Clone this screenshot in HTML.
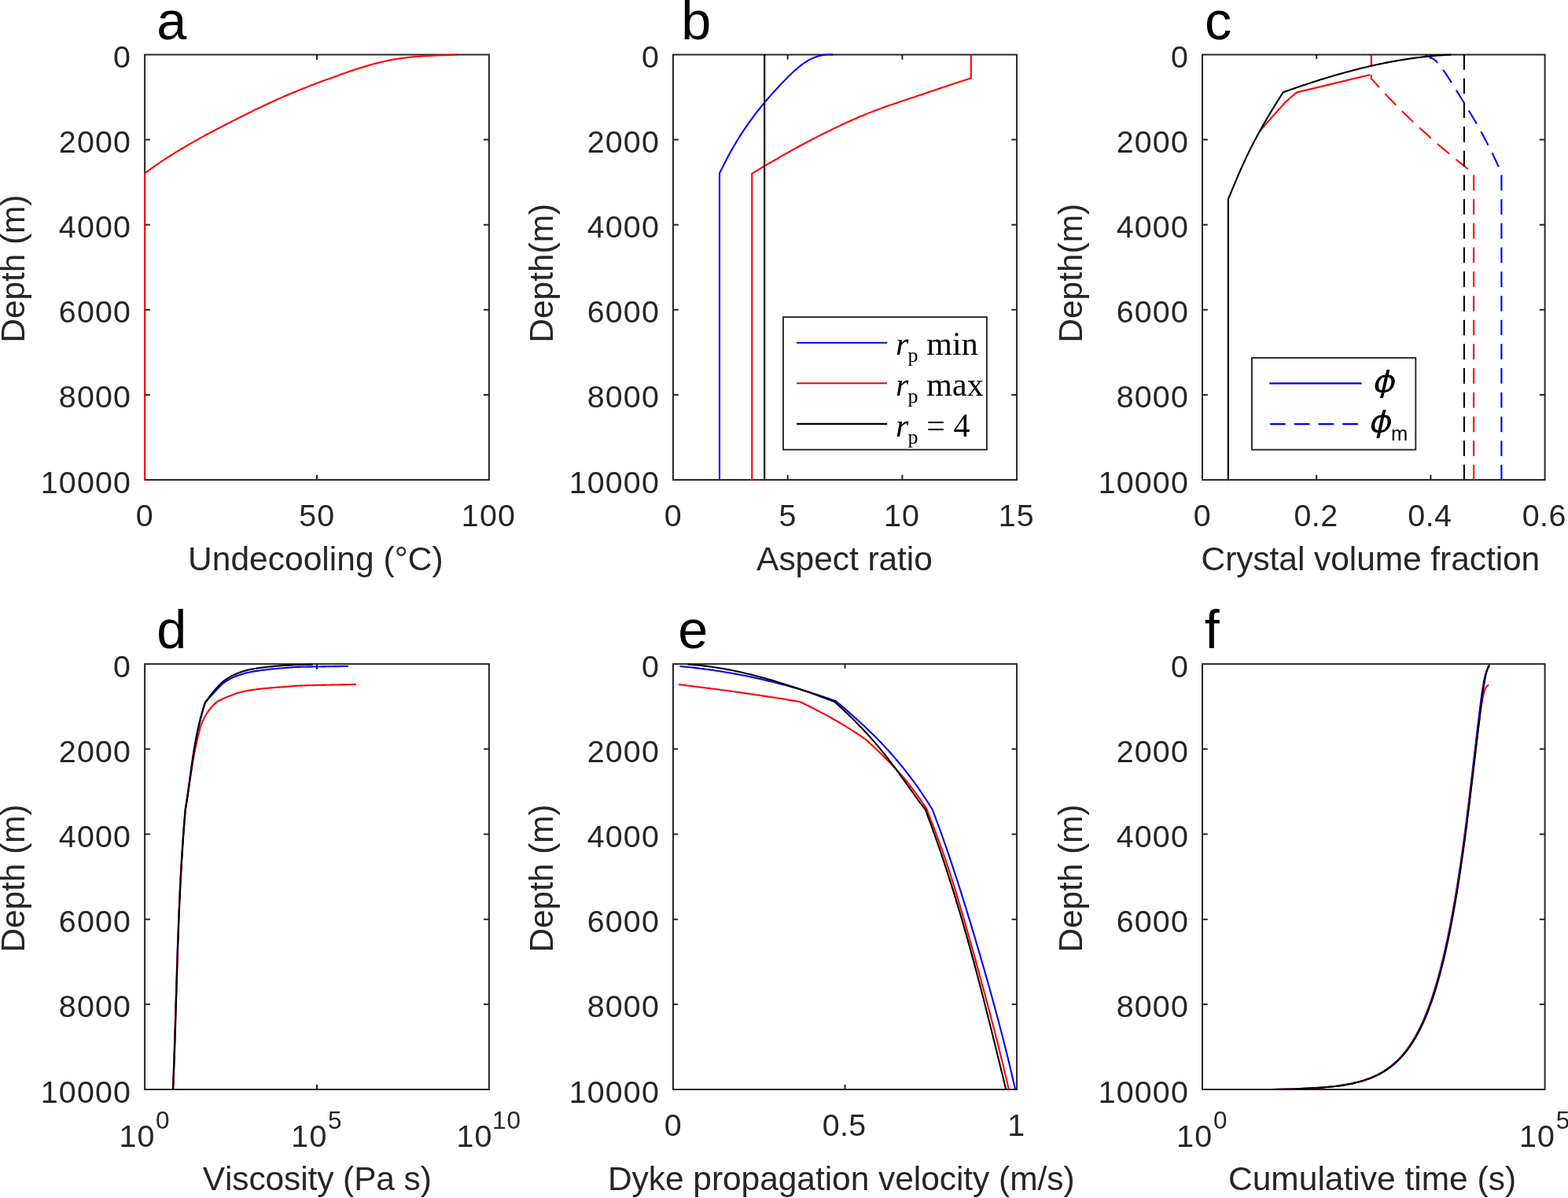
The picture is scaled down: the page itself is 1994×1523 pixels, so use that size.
<!DOCTYPE html>
<html lang="en">
<head>
<meta charset="utf-8">
<title>Depth profiles</title>
<style>
html,body{margin:0;padding:0;background:#fff;}
body{width:1994px;height:1523px;overflow:hidden;}
svg{display:block;}
text{white-space:pre;font-kerning:none;}
</style>
</head>
<body>
<svg width="1994" height="1523" viewBox="0 0 1994 1523">
<rect x="0" y="0" width="1994" height="1523" fill="#ffffff"/>
<path d="M403 610.05 V603.85 M403 69.5 V75.9 M184.1 177.61 H190.85 M621.9 177.61 H615 M184.1 285.72 H190.85 M621.9 285.72 H615 M184.1 393.83 H190.85 M621.9 393.83 H615 M184.1 501.94 H190.85 M621.9 501.94 H615" fill="none" stroke="#262626" stroke-width="2"/>
<rect x="184.1" y="69.5" width="437.8" height="540.55" fill="none" stroke="#262626" stroke-width="2"/>
<path d="M184.1 611.05 L184.12 220.24 L186.79 218.28 L189.46 216.34 L192.13 214.43 L194.8 212.54 L197.48 210.67 L200.15 208.83 L202.82 207.01 L205.49 205.22 L208.16 203.45 L210.83 201.69 L213.5 199.96 L216.17 198.25 L218.84 196.56 L221.51 194.89 L224.19 193.23 L226.86 191.6 L229.53 189.98 L232.2 188.38 L234.87 186.79 L237.54 185.22 L240.21 183.67 L242.88 182.13 L245.55 180.61 L248.22 179.1 L250.9 177.6 L253.57 176.12 L256.24 174.64 L258.91 173.18 L261.58 171.73 L264.25 170.3 L266.92 168.87 L269.59 167.45 L272.26 166.04 L274.93 164.64 L277.61 163.24 L280.28 161.86 L282.95 160.48 L285.62 159.1 L288.29 157.73 L290.96 156.37 L293.63 155.01 L296.3 153.66 L298.97 152.31 L301.64 150.96 L304.32 149.62 L306.99 148.28 L309.66 146.95 L312.33 145.62 L315 144.3 L317.67 142.98 L320.34 141.66 L323.01 140.36 L325.68 139.06 L328.35 137.77 L331.03 136.48 L333.7 135.21 L336.37 133.94 L339.04 132.68 L341.71 131.43 L344.38 130.2 L347.05 128.97 L349.72 127.75 L352.39 126.54 L355.06 125.34 L357.74 124.16 L360.41 122.99 L363.08 121.83 L365.75 120.68 L368.42 119.55 L371.09 118.43 L373.76 117.32 L376.43 116.22 L379.1 115.14 L381.77 114.07 L384.45 113.01 L387.12 111.96 L389.79 110.91 L392.46 109.88 L395.13 108.85 L397.8 107.84 L400.47 106.82 L403.14 105.82 L405.81 104.82 L408.48 103.82 L411.16 102.83 L413.83 101.84 L416.5 100.85 L419.17 99.87 L421.84 98.89 L424.51 97.92 L427.18 96.94 L429.85 95.98 L432.52 95.02 L435.19 94.07 L437.87 93.13 L440.54 92.2 L443.21 91.27 L445.88 90.36 L448.55 89.46 L451.22 88.58 L453.89 87.7 L456.56 86.85 L459.23 86.01 L461.9 85.18 L464.58 84.37 L467.25 83.59 L469.92 82.82 L472.59 82.07 L475.26 81.34 L477.93 80.63 L480.6 79.95 L483.27 79.29 L485.94 78.65 L488.61 78.04 L491.29 77.45 L493.96 76.9 L496.63 76.36 L499.3 75.86 L501.97 75.39 L504.64 74.94 L507.31 74.52 L509.98 74.13 L512.65 73.77 L515.32 73.43 L518 73.12 L520.67 72.83 L523.34 72.56 L526.01 72.31 L528.68 72.08 L531.35 71.86 L534.02 71.67 L536.69 71.49 L539.36 71.32 L542.03 71.16 L544.71 71.02 L547.38 70.88 L550.05 70.76 L552.72 70.64 L555.39 70.53 L558.06 70.42 L560.73 70.32 L563.4 70.22 L566.07 70.13 L568.74 70.03 L571.42 69.93 L574.09 69.83 L576.76 69.72 L579.43 69.61 L582.1 69.5" fill="none" stroke="#ff0000" stroke-width="2.1" stroke-linejoin="round"/>
<text x="144.03" y="86" font-size="39.4" fill="#262626" font-family="'Liberation Sans', sans-serif" letter-spacing="1.14">0</text>
<text x="74.86" y="194.11" font-size="39.4" fill="#262626" font-family="'Liberation Sans', sans-serif" letter-spacing="1.14">2000</text>
<text x="74.86" y="302.22" font-size="39.4" fill="#262626" font-family="'Liberation Sans', sans-serif" letter-spacing="1.14">4000</text>
<text x="74.86" y="410.33" font-size="39.4" fill="#262626" font-family="'Liberation Sans', sans-serif" letter-spacing="1.14">6000</text>
<text x="74.86" y="518.44" font-size="39.4" fill="#262626" font-family="'Liberation Sans', sans-serif" letter-spacing="1.14">8000</text>
<text x="51.8" y="626.55" font-size="39.4" fill="#262626" font-family="'Liberation Sans', sans-serif" letter-spacing="1.14">10000</text>
<text x="172.84" y="669.4" font-size="39.4" fill="#262626" font-family="'Liberation Sans', sans-serif" letter-spacing="1.14">0</text>
<text x="380.2" y="669.4" font-size="39.4" fill="#262626" font-family="'Liberation Sans', sans-serif" letter-spacing="1.14">50</text>
<text x="586.86" y="669.4" font-size="39.4" fill="#262626" font-family="'Liberation Sans', sans-serif" letter-spacing="1.14">100</text>
<text x="239.02" y="724.75" font-size="42.5" fill="#262626" font-family="'Liberation Sans', sans-serif" letter-spacing="0.03">Undecooling (°C)</text>
<text transform="translate(31.1 435.69) rotate(-90)" font-size="42.5" fill="#262626" font-family="'Liberation Sans', sans-serif" letter-spacing="-0.1">Depth (m)</text>
<text x="199.29" y="50.1" font-size="68.5" fill="#000" font-family="'Liberation Sans', sans-serif">a</text>
<path d="M1001.7 610.05 V603.75 M1001.7 69.5 V75.8 M1147.4 610.05 V603.75 M1147.4 69.5 V75.8 M856 177.61 H862.8 M1293.1 177.61 H1286.3 M856 285.72 H862.8 M1293.1 285.72 H1286.3 M856 393.83 H862.8 M1293.1 393.83 H1286.3 M856 501.94 H862.8 M1293.1 501.94 H1286.3" fill="none" stroke="#262626" stroke-width="2"/>
<rect x="856" y="69.5" width="437.1" height="540.55" fill="none" stroke="#262626" stroke-width="2"/>
<path d="M915.04 611.05 L915.04 220.34 L916.5 217.32 L917.95 214.35 L919.41 211.43 L920.86 208.55 L922.32 205.71 L923.78 202.93 L925.23 200.18 L926.69 197.48 L928.15 194.82 L929.6 192.2 L931.06 189.62 L932.51 187.09 L933.97 184.59 L935.43 182.13 L936.88 179.71 L938.34 177.32 L939.79 174.97 L941.25 172.66 L942.71 170.38 L944.16 168.13 L945.62 165.92 L947.08 163.74 L948.53 161.59 L949.99 159.47 L951.44 157.39 L952.9 155.33 L954.36 153.3 L955.81 151.3 L957.27 149.32 L958.72 147.37 L960.18 145.45 L961.64 143.55 L963.09 141.68 L964.55 139.83 L966.01 138 L967.46 136.19 L968.92 134.4 L970.37 132.64 L971.83 130.89 L973.29 129.17 L974.74 127.46 L976.2 125.76 L977.65 124.09 L979.11 122.43 L980.57 120.78 L982.02 119.15 L983.48 117.53 L984.94 115.93 L986.39 114.34 L987.85 112.75 L989.3 111.18 L990.76 109.62 L992.22 108.07 L993.67 106.52 L995.13 104.99 L996.59 103.46 L998.04 101.95 L999.5 100.46 L1000.95 98.98 L1002.41 97.52 L1003.87 96.08 L1005.32 94.67 L1006.78 93.27 L1008.23 91.9 L1009.69 90.56 L1011.15 89.25 L1012.6 87.97 L1014.06 86.72 L1015.52 85.5 L1016.97 84.32 L1018.43 83.18 L1019.88 82.08 L1021.34 81.01 L1022.8 79.99 L1024.25 79.01 L1025.71 78.08 L1027.16 77.2 L1028.62 76.36 L1030.08 75.58 L1031.53 74.85 L1032.99 74.16 L1034.45 73.52 L1035.9 72.93 L1037.36 72.39 L1038.81 71.9 L1040.27 71.45 L1041.73 71.04 L1043.18 70.68 L1044.64 70.37 L1046.09 70.1 L1047.55 69.87 L1049.01 69.68 L1050.46 69.53 L1051.92 69.43 L1053.38 69.37 L1054.83 69.34 L1056.29 69.36 L1057.74 69.41 L1059.2 69.5" fill="none" stroke="#0000ff" stroke-width="2.1" stroke-linejoin="round"/>
<path d="M956.27 611.05 L956.27 220.64 L959.08 218.95 L961.9 217.26 L964.71 215.58 L967.53 213.91 L970.34 212.24 L973.15 210.58 L975.97 208.92 L978.78 207.27 L981.59 205.63 L984.41 203.99 L987.22 202.37 L990.04 200.75 L992.85 199.13 L995.66 197.53 L998.48 195.93 L1001.29 194.34 L1004.11 192.77 L1006.92 191.2 L1009.73 189.63 L1012.55 188.08 L1015.36 186.54 L1018.17 185.01 L1020.99 183.49 L1023.8 181.97 L1026.62 180.47 L1029.43 178.98 L1032.24 177.5 L1035.06 176.03 L1037.87 174.57 L1040.69 173.12 L1043.5 171.69 L1046.31 170.26 L1049.13 168.85 L1051.94 167.45 L1054.75 166.07 L1057.57 164.69 L1060.38 163.33 L1063.2 161.99 L1066.01 160.65 L1068.82 159.33 L1071.64 158.02 L1074.45 156.73 L1077.27 155.45 L1080.08 154.19 L1082.89 152.94 L1085.71 151.71 L1088.52 150.49 L1091.33 149.28 L1094.15 148.09 L1096.96 146.92 L1099.78 145.76 L1102.59 144.62 L1105.4 143.5 L1108.22 142.39 L1111.03 141.3 L1113.84 140.23 L1116.66 139.17 L1119.47 138.13 L1122.29 137.1 L1125.1 136.09 L1127.91 135.09 L1130.73 134.1 L1133.54 133.12 L1136.36 132.15 L1139.17 131.19 L1141.98 130.23 L1144.8 129.29 L1147.61 128.34 L1150.42 127.4 L1153.24 126.47 L1156.05 125.54 L1158.87 124.6 L1161.68 123.67 L1164.49 122.74 L1167.31 121.8 L1170.12 120.86 L1172.94 119.92 L1175.75 118.97 L1178.56 118.02 L1181.38 117.07 L1184.19 116.11 L1187 115.16 L1189.82 114.2 L1192.63 113.24 L1195.45 112.28 L1198.26 111.33 L1201.07 110.38 L1203.89 109.43 L1206.7 108.49 L1209.52 107.55 L1212.33 106.62 L1215.14 105.69 L1217.96 104.78 L1220.77 103.87 L1223.58 102.97 L1226.4 102.08 L1229.21 101.2 L1232.03 100.33 L1234.84 99.48 L1234.84 69.5" fill="none" stroke="#ff0000" stroke-width="2.1" stroke-linejoin="round"/>
<path d="M972.2 611.05 L972.2 68.9" fill="none" stroke="#000000" stroke-width="2.1" stroke-linejoin="round"/>
<text x="815.93" y="86" font-size="39.4" fill="#262626" font-family="'Liberation Sans', sans-serif" letter-spacing="1.14">0</text>
<text x="746.76" y="194.11" font-size="39.4" fill="#262626" font-family="'Liberation Sans', sans-serif" letter-spacing="1.14">2000</text>
<text x="746.76" y="302.22" font-size="39.4" fill="#262626" font-family="'Liberation Sans', sans-serif" letter-spacing="1.14">4000</text>
<text x="746.76" y="410.33" font-size="39.4" fill="#262626" font-family="'Liberation Sans', sans-serif" letter-spacing="1.14">6000</text>
<text x="746.76" y="518.44" font-size="39.4" fill="#262626" font-family="'Liberation Sans', sans-serif" letter-spacing="1.14">8000</text>
<text x="723.7" y="626.55" font-size="39.4" fill="#262626" font-family="'Liberation Sans', sans-serif" letter-spacing="1.14">10000</text>
<text x="844.74" y="669.4" font-size="39.4" fill="#262626" font-family="'Liberation Sans', sans-serif" letter-spacing="1.14">0</text>
<text x="990.48" y="669.4" font-size="39.4" fill="#262626" font-family="'Liberation Sans', sans-serif" letter-spacing="1.14">5</text>
<text x="1123.88" y="669.4" font-size="39.4" fill="#262626" font-family="'Liberation Sans', sans-serif" letter-spacing="1.14">10</text>
<text x="1269.64" y="669.4" font-size="39.4" fill="#262626" font-family="'Liberation Sans', sans-serif" letter-spacing="1.14">15</text>
<text x="962.12" y="724.75" font-size="42.5" fill="#262626" font-family="'Liberation Sans', sans-serif" letter-spacing="-0.06">Aspect ratio</text>
<text transform="translate(703 435.69) rotate(-90)" font-size="42.5" fill="#262626" font-family="'Liberation Sans', sans-serif" letter-spacing="-0.04">Depth(m)</text>
<text x="866.18" y="50.1" font-size="68.5" fill="#000" font-family="'Liberation Sans', sans-serif">b</text>
<rect x="995.95" y="403.1" width="258.95" height="168.55" fill="#fff" stroke="#262626" stroke-width="1.9"/>
<path d="M1013.1 435.7 L1128.2 435.7" fill="none" stroke="#0000ff" stroke-width="2.1" stroke-linejoin="round"/>
<text x="1139" y="451.3" font-size="42" fill="#000" font-family="'Liberation Serif', serif"><tspan font-style="italic">r</tspan><tspan font-size="26" dx="-0.8" dy="9">p</tspan><tspan dx="0.3" dy="-9"> min</tspan></text>
<path d="M1013.1 487.3 L1128.2 487.3" fill="none" stroke="#ff0000" stroke-width="2.1" stroke-linejoin="round"/>
<text x="1139" y="502.9" font-size="42" fill="#000" font-family="'Liberation Serif', serif"><tspan font-style="italic">r</tspan><tspan font-size="26" dx="-0.8" dy="9">p</tspan><tspan dx="0.3" dy="-9"> max</tspan></text>
<path d="M1013.1 538.9 L1128.2 538.9" fill="none" stroke="#000000" stroke-width="2.1" stroke-linejoin="round"/>
<text x="1139" y="554.5" font-size="42" fill="#000" font-family="'Liberation Serif', serif"><tspan font-style="italic">r</tspan><tspan font-size="26" dx="-0.8" dy="9">p</tspan><tspan dx="0.3" dy="-9"> = 4</tspan></text>
<path d="M1674.2 610.05 V603.75 M1674.2 69.5 V75 M1819.4 610.05 V603.75 M1819.4 69.5 V75 M1529 177.61 H1535.8 M1964.6 177.61 H1957.8 M1529 285.72 H1535.8 M1964.6 285.72 H1957.8 M1529 393.83 H1535.8 M1964.6 393.83 H1957.8 M1529 501.94 H1535.8 M1964.6 501.94 H1957.8" fill="none" stroke="#262626" stroke-width="2"/>
<rect x="1529" y="69.5" width="435.6" height="540.55" fill="none" stroke="#262626" stroke-width="2"/>
<path d="M1909.41 610.55 L1909.41 220.6 L1908.78 219.08 L1908.13 217.56 L1907.49 216.05 L1906.83 214.53 L1906.17 213.01 L1905.5 211.49 L1904.82 209.97 L1904.14 208.45 L1903.45 206.94 L1902.76 205.42 L1902.05 203.9 L1901.34 202.38 L1900.63 200.86 L1899.91 199.35 L1899.18 197.83 L1898.45 196.31 L1897.71 194.79 L1896.96 193.27 L1896.21 191.75 L1895.45 190.24 L1894.69 188.72 L1893.92 187.2 L1893.14 185.68 L1892.36 184.16 L1891.57 182.65 L1890.78 181.13 L1889.98 179.61 L1889.18 178.09 L1888.37 176.57 L1887.56 175.05 L1886.74 173.54 L1885.92 172.02 L1885.09 170.5 L1884.26 168.98 L1883.42 167.46 L1882.58 165.95 L1881.73 164.43 L1880.88 162.91 L1880.02 161.39 L1879.16 159.87 L1878.3 158.35 L1877.43 156.84 L1876.55 155.32 L1875.68 153.8 L1874.79 152.28 L1873.91 150.76 L1873.02 149.25 L1872.12 147.73 L1871.22 146.21 L1870.32 144.69 L1869.42 143.17 L1868.51 141.65 L1867.59 140.14 L1866.68 138.62 L1865.76 137.1 L1864.84 135.58 L1863.91 134.06 L1862.98 132.55 L1862.05 131.03 L1861.12 129.51 L1860.18 127.99 L1859.24 126.47 L1858.3 124.95 L1857.36 123.44 L1856.42 121.92 L1855.47 120.4 L1854.53 118.88 L1853.58 117.36 L1852.63 115.85 L1851.68 114.33 L1850.73 112.81 L1849.78 111.29 L1848.83 109.77 L1847.88 108.25 L1846.92 106.74 L1845.97 105.22 L1845.02 103.7 L1844.07 102.18 L1843.11 100.66 L1842.15 99.15 L1841.17 97.63 L1840.19 96.11 L1839.19 94.59 L1838.17 93.07 L1837.13 91.55 L1836.07 90.04 L1834.99 88.52 L1833.88 87 L1832.74 85.48 L1831.57 83.96 L1830.36 82.45 L1829.11 80.93 L1827.83 79.41 L1826.45 77.89 L1824.81 76.37 L1822.72 74.85 L1819.99 73.34 L1816.43 71.82 L1811.85 70.3" fill="none" stroke="#0000ff" stroke-width="2.1" stroke-linejoin="round" stroke-dasharray="19.7 11" stroke-dashoffset="0"/>
<path d="M1874.1 610.55 L1874.1 220.6 L1872.53 219.38 L1870.97 218.16 L1869.41 216.94 L1867.86 215.72 L1866.32 214.49 L1864.77 213.27 L1863.24 212.05 L1861.71 210.83 L1860.18 209.61 L1858.66 208.39 L1857.15 207.17 L1855.64 205.95 L1854.13 204.72 L1852.63 203.5 L1851.14 202.28 L1849.65 201.06 L1848.16 199.84 L1846.68 198.62 L1845.21 197.4 L1843.74 196.18 L1842.28 194.95 L1840.82 193.73 L1839.37 192.51 L1837.92 191.29 L1836.48 190.07 L1835.04 188.85 L1833.61 187.63 L1832.18 186.41 L1830.76 185.18 L1829.34 183.96 L1827.93 182.74 L1826.52 181.52 L1825.12 180.3 L1823.72 179.08 L1822.33 177.86 L1820.95 176.64 L1819.57 175.42 L1818.19 174.19 L1816.82 172.97 L1815.45 171.75 L1814.09 170.53 L1812.74 169.31 L1811.39 168.09 L1810.04 166.87 L1808.7 165.65 L1807.37 164.42 L1806.04 163.2 L1804.71 161.98 L1803.39 160.76 L1802.08 159.54 L1800.77 158.32 L1799.46 157.1 L1798.16 155.88 L1796.87 154.65 L1795.58 153.43 L1794.29 152.21 L1793.02 150.99 L1791.74 149.77 L1790.47 148.55 L1789.21 147.33 L1787.95 146.11 L1786.69 144.88 L1785.44 143.66 L1784.2 142.44 L1782.96 141.22 L1781.73 140 L1780.5 138.78 L1779.27 137.56 L1778.06 136.34 L1776.84 135.12 L1775.63 133.89 L1774.43 132.67 L1773.23 131.45 L1772.04 130.23 L1770.85 129.01 L1769.66 127.79 L1768.48 126.57 L1767.31 125.35 L1766.14 124.12 L1764.98 122.9 L1763.82 121.68 L1762.66 120.46 L1761.51 119.24 L1760.37 118.02 L1759.23 116.8 L1758.1 115.58 L1756.97 114.35 L1755.84 113.13 L1754.72 111.91 L1753.61 110.69 L1752.5 109.47 L1751.39 108.25 L1750.29 107.03 L1749.2 105.81 L1748.11 104.58 L1747.03 103.36 L1745.95 102.14 L1744.87 100.92 L1743.8 99.7 L1743.8 69.5" fill="none" stroke="#ff0000" stroke-width="2.1" stroke-linejoin="round" stroke-dasharray="19.7 11" stroke-dashoffset="0"/>
<path d="M1561.9 611.05 L1561.9 253.22 L1562.47 251.85 L1563.03 250.48 L1563.6 249.1 L1564.16 247.73 L1564.73 246.36 L1565.3 244.99 L1565.86 243.61 L1566.43 242.24 L1567 240.87 L1567.57 239.5 L1568.14 238.13 L1568.72 236.75 L1569.29 235.38 L1569.86 234.01 L1570.44 232.64 L1571.02 231.26 L1571.6 229.89 L1572.18 228.52 L1572.77 227.15 L1573.35 225.78 L1573.94 224.4 L1574.53 223.03 L1575.12 221.66 L1575.72 220.29 L1576.32 218.91 L1576.92 217.54 L1577.52 216.17 L1578.13 214.8 L1578.74 213.43 L1579.35 212.05 L1579.97 210.68 L1580.59 209.31 L1581.22 207.94 L1581.84 206.56 L1582.48 205.19 L1583.11 203.82 L1583.75 202.45 L1584.39 201.08 L1585.04 199.7 L1585.7 198.33 L1586.35 196.96 L1587.01 195.59 L1587.68 194.21 L1588.35 192.84 L1589.03 191.47 L1589.71 190.1 L1590.4 188.73 L1591.09 187.35 L1591.78 185.98 L1592.48 184.61 L1593.18 183.24 L1593.89 181.86 L1594.61 180.49 L1595.32 179.12 L1596.05 177.75 L1596.77 176.38 L1597.5 175 L1598.24 173.63 L1598.98 172.26 L1599.72 170.89 L1600.47 169.51 L1601.22 168.14 L1601.98 166.77" fill="none" stroke="#ff0000" stroke-width="1.2" stroke-linejoin="round"/>
<path d="M1561.9 611.05 L1561.9 253.22 L1562.47 251.85 L1563.03 250.48 L1563.6 249.1 L1564.16 247.73 L1564.73 246.36 L1565.3 244.99 L1565.86 243.61 L1566.43 242.24 L1567 240.87 L1567.57 239.5 L1568.14 238.13 L1568.72 236.75 L1569.29 235.38 L1569.86 234.01 L1570.44 232.64 L1571.02 231.26 L1571.6 229.89 L1572.18 228.52 L1572.77 227.15 L1573.35 225.78 L1573.94 224.4 L1574.53 223.03 L1575.12 221.66 L1575.72 220.29 L1576.32 218.91 L1576.92 217.54 L1577.52 216.17 L1578.13 214.8 L1578.74 213.43 L1579.35 212.05 L1579.97 210.68 L1580.59 209.31 L1581.22 207.94 L1581.84 206.56 L1582.48 205.19 L1583.11 203.82 L1583.75 202.45 L1584.39 201.08 L1585.04 199.7 L1585.7 198.33 L1586.35 196.96 L1587.01 195.59 L1587.68 194.21 L1588.35 192.84 L1589.03 191.47 L1589.71 190.1 L1590.4 188.73 L1591.09 187.35 L1591.78 185.98 L1592.48 184.61 L1593.18 183.24 L1593.89 181.86 L1594.61 180.49 L1595.32 179.12 L1596.05 177.75 L1596.77 176.38 L1597.5 175 L1598.24 173.63 L1598.98 172.26 L1599.72 170.89 L1600.47 169.51 L1601.22 168.14 L1601.98 166.77 L1602.74 165.4 L1603.5 164.03 L1604.27 162.65 L1605.05 161.28 L1605.82 159.91 L1606.6 158.54 L1607.39 157.16 L1608.18 155.79 L1608.97 154.42 L1609.77 153.05 L1610.57 151.68 L1611.37 150.3 L1612.18 148.93 L1612.99 147.56 L1613.81 146.19 L1614.63 144.81 L1615.45 143.44 L1616.28 142.07 L1617.11 140.7 L1617.94 139.33 L1618.78 137.95 L1619.62 136.58 L1620.46 135.21 L1621.31 133.84 L1622.16 132.46 L1623.01 131.09 L1623.87 129.72 L1624.73 128.35 L1625.59 126.98 L1626.46 125.6 L1627.33 124.23 L1628.21 122.86 L1629.08 121.49 L1629.96 120.11 L1630.84 118.74 L1631.73 117.37 L1633.89 116.6 L1636.05 115.82 L1638.21 115.06 L1640.37 114.3 L1642.53 113.54 L1644.69 112.78 L1646.85 112.03 L1649.01 111.29 L1651.17 110.55 L1653.33 109.81 L1655.49 109.08 L1657.65 108.35 L1659.81 107.63 L1661.97 106.92 L1664.13 106.2 L1666.29 105.49 L1668.45 104.79 L1670.61 104.09 L1672.77 103.4 L1674.93 102.71 L1677.09 102.03 L1679.25 101.35 L1681.41 100.68 L1683.57 100.01 L1685.72 99.35 L1687.88 98.7 L1690.04 98.05 L1692.2 97.4 L1694.36 96.76 L1696.52 96.13 L1698.68 95.5 L1700.84 94.88 L1703 94.26 L1705.16 93.65 L1707.32 93.05 L1709.48 92.45 L1711.64 91.86 L1713.8 91.27 L1715.96 90.69 L1718.12 90.12 L1720.28 89.55 L1722.44 88.99 L1724.6 88.43 L1726.76 87.89 L1728.92 87.35 L1731.08 86.81 L1733.24 86.28 L1735.4 85.76 L1737.56 85.25 L1739.72 84.74 L1741.88 84.24 L1744.04 83.75 L1746.2 83.26 L1748.36 82.78 L1750.52 82.31 L1752.68 81.84 L1754.84 81.38 L1757 80.93 L1759.16 80.49 L1761.32 80.05 L1763.48 79.63 L1765.64 79.21 L1767.8 78.79 L1769.96 78.39 L1772.12 77.99 L1774.28 77.6 L1776.44 77.22 L1778.6 76.84 L1780.76 76.48 L1782.92 76.12 L1785.08 75.77 L1787.24 75.43 L1789.4 75.09 L1791.56 74.77 L1793.71 74.45 L1795.87 74.14 L1798.03 73.84 L1800.19 73.55 L1802.35 73.27 L1804.51 72.99 L1806.67 72.73 L1808.83 72.47 L1810.99 72.22" fill="none" stroke="#0000ff" stroke-width="1.2" stroke-linejoin="round"/>
<path d="M1601.98 166.77 L1603.05 165.5 L1604.12 164.24 L1605.2 162.97 L1606.28 161.7 L1607.37 160.44 L1608.46 159.17 L1609.56 157.9 L1610.66 156.64 L1611.77 155.37 L1612.88 154.1 L1614 152.84 L1615.11 151.57 L1616.24 150.3 L1617.37 149.04 L1618.5 147.77 L1619.65 146.5 L1620.8 145.24 L1621.95 143.97 L1623.11 142.7 L1624.27 141.44 L1625.43 140.17 L1626.59 138.9 L1627.73 137.64 L1628.85 136.37 L1629.98 135.1 L1631.11 133.84 L1632.27 132.57 L1633.46 131.3 L1634.69 130.04 L1635.98 128.77 L1637.31 127.5 L1638.69 126.24 L1640.1 124.97 L1641.56 123.7 L1643.05 122.44 L1644.58 121.17 L1646.14 119.9 L1647.74 118.64 L1649.38 117.37 L1742.4 95" fill="none" stroke="#ff0000" stroke-width="2.1" stroke-linejoin="round"/>
<path d="M1561.9 611.05 L1561.9 253.22 L1562.47 251.85 L1563.03 250.48 L1563.6 249.1 L1564.16 247.73 L1564.73 246.36 L1565.3 244.99 L1565.86 243.61 L1566.43 242.24 L1567 240.87 L1567.57 239.5 L1568.14 238.13 L1568.72 236.75 L1569.29 235.38 L1569.86 234.01 L1570.44 232.64 L1571.02 231.26 L1571.6 229.89 L1572.18 228.52 L1572.77 227.15 L1573.35 225.78 L1573.94 224.4 L1574.53 223.03 L1575.12 221.66 L1575.72 220.29 L1576.32 218.91 L1576.92 217.54 L1577.52 216.17 L1578.13 214.8 L1578.74 213.43 L1579.35 212.05 L1579.97 210.68 L1580.59 209.31 L1581.22 207.94 L1581.84 206.56 L1582.48 205.19 L1583.11 203.82 L1583.75 202.45 L1584.39 201.08 L1585.04 199.7 L1585.7 198.33 L1586.35 196.96 L1587.01 195.59 L1587.68 194.21 L1588.35 192.84 L1589.03 191.47 L1589.71 190.1 L1590.4 188.73 L1591.09 187.35 L1591.78 185.98 L1592.48 184.61 L1593.18 183.24 L1593.89 181.86 L1594.61 180.49 L1595.32 179.12 L1596.05 177.75 L1596.77 176.38 L1597.5 175 L1598.24 173.63 L1598.98 172.26 L1599.72 170.89 L1600.47 169.51 L1601.22 168.14 L1601.98 166.77 L1602.74 165.4 L1603.5 164.03 L1604.27 162.65 L1605.05 161.28 L1605.82 159.91 L1606.6 158.54 L1607.39 157.16 L1608.18 155.79 L1608.97 154.42 L1609.77 153.05 L1610.57 151.68 L1611.37 150.3 L1612.18 148.93 L1612.99 147.56 L1613.81 146.19 L1614.63 144.81 L1615.45 143.44 L1616.28 142.07 L1617.11 140.7 L1617.94 139.33 L1618.78 137.95 L1619.62 136.58 L1620.46 135.21 L1621.31 133.84 L1622.16 132.46 L1623.01 131.09 L1623.87 129.72 L1624.73 128.35 L1625.59 126.98 L1626.46 125.6 L1627.33 124.23 L1628.21 122.86 L1629.08 121.49 L1629.96 120.11 L1630.84 118.74 L1631.73 117.37 L1633.89 116.6 L1636.05 115.82 L1638.21 115.06 L1640.37 114.3 L1642.53 113.54 L1644.69 112.78 L1646.85 112.03 L1649.01 111.29 L1651.17 110.55 L1653.33 109.81 L1655.49 109.08 L1657.65 108.35 L1659.81 107.63 L1661.97 106.92 L1664.13 106.2 L1666.29 105.49 L1668.45 104.79 L1670.61 104.09 L1672.77 103.4 L1674.93 102.71 L1677.09 102.03 L1679.25 101.35 L1681.41 100.68 L1683.57 100.01 L1685.72 99.35 L1687.88 98.7 L1690.04 98.05 L1692.2 97.4 L1694.36 96.76 L1696.52 96.13 L1698.68 95.5 L1700.84 94.88 L1703 94.26 L1705.16 93.65 L1707.32 93.05 L1709.48 92.45 L1711.64 91.86 L1713.8 91.27 L1715.96 90.69 L1718.12 90.12 L1720.28 89.55 L1722.44 88.99 L1724.6 88.43 L1726.76 87.89 L1728.92 87.35 L1731.08 86.81 L1733.24 86.28 L1735.4 85.76 L1737.56 85.25 L1739.72 84.74 L1741.88 84.24 L1744.04 83.75 L1746.2 83.26 L1748.36 82.78 L1750.52 82.31 L1752.68 81.84 L1754.84 81.38 L1757 80.93 L1759.16 80.49 L1761.32 80.05 L1763.48 79.63 L1765.64 79.21 L1767.8 78.79 L1769.96 78.39 L1772.12 77.99 L1774.28 77.6 L1776.44 77.22 L1778.6 76.84 L1780.76 76.48 L1782.92 76.12 L1785.08 75.77 L1787.24 75.43 L1789.4 75.09 L1791.56 74.77 L1793.71 74.45 L1795.87 74.14 L1798.03 73.84 L1800.19 73.55 L1802.35 73.27 L1804.51 72.99 L1806.67 72.73 L1808.83 72.47 L1810.99 72.22 L1813.15 71.98 L1815.31 71.75 L1817.47 71.53 L1819.63 71.32 L1821.79 71.12 L1823.95 70.92 L1826.11 70.74 L1828.27 70.56 L1830.43 70.4 L1832.59 70.24 L1834.75 70.09 L1836.91 69.96 L1839.07 69.83 L1841.23 69.71 L1843.39 69.6 L1845.55 69.5" fill="none" stroke="#000000" stroke-width="2.1" stroke-linejoin="round"/>
<path d="M1861.95 610.55 L1861.95 69.5" fill="none" stroke="#000000" stroke-width="2.1" stroke-linejoin="round" stroke-dasharray="19.7 11" stroke-dashoffset="0"/>
<text x="1488.93" y="86" font-size="39.4" fill="#262626" font-family="'Liberation Sans', sans-serif" letter-spacing="1.14">0</text>
<text x="1419.76" y="194.11" font-size="39.4" fill="#262626" font-family="'Liberation Sans', sans-serif" letter-spacing="1.14">2000</text>
<text x="1419.76" y="302.22" font-size="39.4" fill="#262626" font-family="'Liberation Sans', sans-serif" letter-spacing="1.14">4000</text>
<text x="1419.76" y="410.33" font-size="39.4" fill="#262626" font-family="'Liberation Sans', sans-serif" letter-spacing="1.14">6000</text>
<text x="1419.76" y="518.44" font-size="39.4" fill="#262626" font-family="'Liberation Sans', sans-serif" letter-spacing="1.14">8000</text>
<text x="1396.7" y="626.55" font-size="39.4" fill="#262626" font-family="'Liberation Sans', sans-serif" letter-spacing="1.14">10000</text>
<text x="1517.74" y="669.4" font-size="39.4" fill="#262626" font-family="'Liberation Sans', sans-serif" letter-spacing="1.14">0</text>
<text x="1645.54" y="669.4" font-size="39.4" fill="#262626" font-family="'Liberation Sans', sans-serif" letter-spacing="0.39">0.2</text>
<text x="1790.33" y="669.4" font-size="39.4" fill="#262626" font-family="'Liberation Sans', sans-serif" letter-spacing="0.39">0.4</text>
<text x="1935.82" y="669.4" font-size="39.4" fill="#262626" font-family="'Liberation Sans', sans-serif" letter-spacing="0.39">0.6</text>
<text x="1527.54" y="724.75" font-size="42.5" fill="#262626" font-family="'Liberation Sans', sans-serif" letter-spacing="-0.07">Crystal volume fraction</text>
<text transform="translate(1376 435.69) rotate(-90)" font-size="42.5" fill="#262626" font-family="'Liberation Sans', sans-serif" letter-spacing="-0.04">Depth(m)</text>
<text x="1532.09" y="50.1" font-size="68.5" fill="#000" font-family="'Liberation Sans', sans-serif">c</text>
<rect x="1592" y="454.9" width="208.3" height="116.8" fill="#fff" stroke="#262626" stroke-width="1.9"/>
<path d="M1614.3 487.4 L1731.7 487.4" fill="none" stroke="#0000ff" stroke-width="2.1" stroke-linejoin="round"/>
<path d="M1615.1 539.1 L1731.7 539.1" fill="none" stroke="#0000ff" stroke-width="2.1" stroke-linejoin="round" stroke-dasharray="19.7 11" stroke-dashoffset="0"/>
<text transform="translate(1746.49 498.4) scale(1.21 1)" font-size="37" fill="#000" font-style="italic" font-family="'DejaVu Sans', sans-serif">ϕ</text>
<text transform="translate(1741.69 549.3) scale(1.21 1)" font-size="37" fill="#000" font-style="italic" font-family="'DejaVu Sans', sans-serif">ϕ</text>
<text x="1769.1" y="559.9" font-size="25.5" fill="#000" font-family="'Liberation Sans', sans-serif">m</text>
<path d="M403 1385 V1378.7 M403 844.15 V851.05 M184.1 952.32 H190.9 M621.9 952.32 H615.1 M184.1 1060.49 H190.9 M621.9 1060.49 H615.1 M184.1 1168.66 H190.9 M621.9 1168.66 H615.1 M184.1 1276.83 H190.9 M621.9 1276.83 H615.1" fill="none" stroke="#262626" stroke-width="2"/>
<rect x="184.1" y="844.15" width="437.8" height="540.85" fill="none" stroke="#262626" stroke-width="2"/>
<path d="M219.82 1385 L220.07 1378.97 L220.32 1372.93 L220.56 1366.9 L220.79 1360.86 L221.02 1354.83 L221.24 1348.8 L221.45 1342.76 L221.66 1336.73 L221.86 1330.69 L222.06 1324.66 L222.26 1318.63 L222.45 1312.59 L222.64 1306.56 L222.83 1300.53 L223.02 1294.49 L223.2 1288.46 L223.38 1282.42 L223.56 1276.39 L223.75 1270.36 L223.93 1264.32 L224.11 1258.29 L224.29 1252.25 L224.48 1246.22 L224.66 1240.19 L224.85 1234.15 L225.04 1228.12 L225.23 1222.08 L225.43 1216.05 L225.63 1210.02 L225.84 1203.98 L226.05 1197.95 L226.26 1191.92 L226.48 1185.88 L226.71 1179.85 L226.94 1173.81 L227.18 1167.78 L227.43 1161.75 L227.68 1155.71 L227.94 1149.68 L228.21 1143.64 L228.49 1137.61 L228.78 1131.58 L229.08 1125.54 L229.39 1119.51 L229.71 1113.47 L230.04 1107.44 L230.39 1101.41 L230.74 1095.37 L231.11 1089.34 L231.49 1083.31 L231.88 1077.27 L232.29 1071.24 L232.71 1065.2 L233.14 1059.17 L233.59 1053.14 L234.06 1047.1 L234.54 1041.07 L235.04 1035.03 L235.55 1029 L235.94 1026.69 L236.31 1024.38 L236.68 1022.06 L237.04 1019.75 L237.4 1017.44 L237.75 1015.13 L238.1 1012.82 L238.43 1010.51 L238.77 1008.19 L239.1 1005.88 L239.43 1003.57 L239.75 1001.26 L240.07 998.95 L240.39 996.63 L240.71 994.32 L241.03 992.01 L241.34 989.7 L241.66 987.39 L241.98 985.07 L242.29 982.76 L242.61 980.45 L242.94 978.14 L243.26 975.83 L243.59 973.52 L243.92 971.2 L244.25 968.89 L244.59 966.58 L244.94 964.27 L245.29 961.96 L245.64 959.64 L246 957.33 L246.37 955.02 L246.75 952.71 L247.14 950.4 L247.53 948.08 L247.93 945.77 L248.35 943.46 L248.77 941.15 L249.2 938.84 L249.65 936.53 L250.11 934.21 L250.57 931.9 L251.06 929.59 L251.55 927.28 L252.06 924.97 L252.58 922.65 L253.12 920.34 L253.67 918.03 L254.24 915.72 L254.82 913.41 L255.43 911.09 L256.04 908.78 L256.68 906.47 L257.33 904.16 L258.01 901.85 L258.7 899.54 L259.41 897.22 L260.15 894.91 L260.9 892.6 L262.97 890.86 L264.5 889.13 L266.02 887.4 L267.55 885.65 L269.07 883.91 L270.6 882.26 L272.12 880.59 L273.65 878.91 L275.17 877.24 L276.7 875.58 L278.22 873.97 L279.75 872.41 L281.27 870.94 L282.8 869.56 L284.32 868.3 L285.85 867.18 L287.37 866.17 L288.9 865.21 L290.42 864.31 L291.95 863.45 L293.47 862.63 L295 861.87 L296.52 861.14 L298.04 860.46 L299.57 859.82 L301.09 859.23 L302.62 858.67 L304.14 858.14 L305.67 857.63 L307.19 857.15 L308.72 856.69 L310.24 856.25 L311.77 855.84 L313.29 855.45 L314.82 855.08 L316.34 854.74 L317.87 854.42 L319.39 854.13 L320.92 853.86 L322.44 853.6 L323.97 853.36 L325.49 853.13 L327.02 852.91 L328.54 852.69 L330.07 852.49 L331.59 852.28 L333.12 852.08 L334.64 851.87 L336.16 851.67 L337.69 851.48 L339.21 851.28 L340.74 851.1 L342.26 850.91 L343.79 850.74 L345.31 850.57 L346.84 850.41 L348.36 850.26 L349.89 850.11 L351.41 849.97 L352.94 849.83 L354.46 849.7 L355.99 849.57 L357.51 849.44 L359.04 849.32 L360.56 849.19 L362.09 849.07 L363.61 848.96 L365.14 848.84 L366.66 848.73 L368.19 848.62 L369.71 848.52 L371.23 848.42 L372.76 848.31 L374.28 848.2 L375.81 848.1 L377.33 848.01 L378.86 847.94 L380.38 847.89 L381.91 847.85 L383.43 847.81 L384.96 847.77 L386.48 847.74 L388.01 847.71 L389.53 847.68 L391.06 847.66 L392.58 847.63 L394.11 847.61 L395.63 847.59 L397.16 847.57 L398.68 847.55 L400.21 847.53 L401.73 847.51 L403.26 847.49 L404.78 847.47 L406.31 847.45 L407.83 847.43 L409.35 847.41 L410.88 847.39 L412.4 847.36 L413.93 847.34 L415.45 847.32 L416.98 847.3 L418.5 847.27 L420.03 847.25 L421.55 847.23 L423.08 847.21 L424.6 847.19 L426.13 847.16 L427.65 847.14 L429.18 847.12 L430.7 847.1 L432.23 847.08 L433.75 847.06 L435.28 847.04 L436.8 847.02 L438.33 847 L439.85 846.98 L441.38 846.96 L442.9 846.94" fill="none" stroke="#0000ff" stroke-width="2.1" stroke-linejoin="round"/>
<path d="M219.97 1385 L220.22 1378.97 L220.47 1372.93 L220.71 1366.9 L220.94 1360.86 L221.17 1354.83 L221.39 1348.8 L221.6 1342.76 L221.81 1336.73 L222.01 1330.69 L222.21 1324.66 L222.41 1318.63 L222.6 1312.59 L222.79 1306.56 L222.98 1300.53 L223.17 1294.49 L223.35 1288.46 L223.53 1282.42 L223.71 1276.39 L223.9 1270.36 L224.08 1264.32 L224.26 1258.29 L224.44 1252.25 L224.63 1246.22 L224.81 1240.19 L225 1234.15 L225.19 1228.12 L225.38 1222.08 L225.58 1216.05 L225.78 1210.02 L225.99 1203.98 L226.2 1197.95 L226.41 1191.92 L226.63 1185.88 L226.86 1179.85 L227.09 1173.81 L227.33 1167.78 L227.58 1161.75 L227.83 1155.71 L228.09 1149.68 L228.36 1143.64 L228.64 1137.61 L228.93 1131.58 L229.23 1125.54 L229.54 1119.51 L229.86 1113.47 L230.19 1107.44 L230.54 1101.41 L230.89 1095.37 L231.26 1089.34 L231.64 1083.31 L232.03 1077.27 L232.44 1071.24 L232.86 1065.2 L233.29 1059.17 L233.74 1053.14 L234.21 1047.1 L234.69 1041.07 L235.19 1035.03 L235.7 1029 L236.25 1026.68 L236.61 1024.37 L236.96 1022.05 L237.31 1019.73 L237.67 1017.42 L238.02 1015.1 L238.37 1012.78 L238.73 1010.46 L239.08 1008.15 L239.43 1005.83 L239.79 1003.51 L240.14 1001.2 L240.49 998.88 L240.83 996.56 L241.18 994.25 L241.53 991.93 L241.87 989.61 L242.22 987.29 L242.58 984.98 L242.94 982.66 L243.3 980.34 L243.68 978.03 L244.05 975.71 L244.44 973.39 L244.82 971.08 L245.22 968.76 L245.62 966.44 L246.02 964.13 L246.44 961.81 L246.87 959.49 L247.31 957.17 L247.76 954.86 L248.21 952.54 L248.68 950.22 L249.16 947.91 L249.65 945.59 L250.15 943.27 L250.67 940.96 L251.21 938.64 L251.75 936.32 L252.29 934.01 L252.85 931.69 L253.44 929.37 L254.07 927.05 L254.76 924.74 L255.51 922.42 L256.35 920.1 L257.3 917.79 L258.36 915.47 L259.5 913.15 L260.73 910.84 L262.04 908.52 L263.49 906.2 L265.09 903.88 L266.83 901.57 L268.72 899.25 L270.83 896.93 L273.19 894.62 L275.72 892.3 L277.21 891.5 L278.7 890.73 L280.19 889.97 L281.68 889.24 L283.17 888.53 L284.66 887.85 L286.15 887.19 L287.64 886.55 L289.13 885.93 L290.62 885.32 L292.11 884.72 L293.6 884.14 L295.09 883.55 L296.58 882.96 L298.07 882.37 L299.56 881.82 L301.05 881.31 L302.54 880.88 L304.03 880.47 L305.51 880.09 L307 879.72 L308.49 879.37 L309.98 879.04 L311.47 878.73 L312.96 878.43 L314.45 878.15 L315.94 877.88 L317.43 877.62 L318.92 877.37 L320.41 877.14 L321.9 876.91 L323.39 876.69 L324.88 876.49 L326.37 876.29 L327.86 876.1 L329.35 875.91 L330.84 875.74 L332.33 875.57 L333.82 875.41 L335.31 875.26 L336.8 875.11 L338.29 874.97 L339.78 874.83 L341.27 874.71 L342.76 874.58 L344.25 874.46 L345.74 874.34 L347.23 874.22 L348.72 874.1 L350.21 873.98 L351.7 873.87 L353.19 873.76 L354.68 873.65 L356.17 873.54 L357.66 873.43 L359.15 873.33 L360.64 873.22 L362.13 873.11 L363.62 873 L365.1 872.89 L366.59 872.77 L368.08 872.64 L369.57 872.51 L371.06 872.37 L372.55 872.23 L374.04 872.1 L375.53 871.98 L377.02 871.87 L378.51 871.77 L380 871.7 L381.49 871.64 L382.98 871.58 L384.47 871.53 L385.96 871.48 L387.45 871.43 L388.94 871.38 L390.43 871.34 L391.92 871.3 L393.41 871.26 L394.9 871.23 L396.39 871.19 L397.88 871.16 L399.37 871.13 L400.86 871.09 L402.35 871.06 L403.84 871.03 L405.33 871 L406.82 870.97 L408.31 870.94 L409.8 870.9 L411.29 870.87 L412.78 870.84 L414.27 870.81 L415.76 870.77 L417.25 870.74 L418.74 870.71 L420.23 870.68 L421.72 870.65 L423.21 870.62 L424.69 870.59 L426.18 870.56 L427.67 870.53 L429.16 870.5 L430.65 870.47 L432.14 870.44 L433.63 870.42 L435.12 870.39 L436.61 870.36 L438.1 870.33 L439.59 870.31 L441.08 870.28 L442.57 870.26 L444.06 870.23 L445.55 870.21 L447.04 870.19 L448.53 870.16 L450.02 870.14 L451.51 870.12 L453 870.1" fill="none" stroke="#ff0000" stroke-width="2.1" stroke-linejoin="round"/>
<path d="M220.17 1385 L220.42 1378.97 L220.67 1372.93 L220.91 1366.9 L221.14 1360.86 L221.37 1354.83 L221.59 1348.8 L221.8 1342.76 L222.01 1336.73 L222.21 1330.69 L222.41 1324.66 L222.61 1318.63 L222.8 1312.59 L222.99 1306.56 L223.18 1300.53 L223.37 1294.49 L223.55 1288.46 L223.73 1282.42 L223.91 1276.39 L224.1 1270.36 L224.28 1264.32 L224.46 1258.29 L224.64 1252.25 L224.83 1246.22 L225.01 1240.19 L225.2 1234.15 L225.39 1228.12 L225.58 1222.08 L225.78 1216.05 L225.98 1210.02 L226.19 1203.98 L226.4 1197.95 L226.61 1191.92 L226.83 1185.88 L227.06 1179.85 L227.29 1173.81 L227.53 1167.78 L227.78 1161.75 L228.03 1155.71 L228.29 1149.68 L228.56 1143.64 L228.84 1137.61 L229.13 1131.58 L229.43 1125.54 L229.74 1119.51 L230.06 1113.47 L230.39 1107.44 L230.74 1101.41 L231.09 1095.37 L231.46 1089.34 L231.84 1083.31 L232.23 1077.27 L232.64 1071.24 L233.06 1065.2 L233.49 1059.17 L233.94 1053.14 L234.41 1047.1 L234.89 1041.07 L235.39 1035.03 L235.9 1029 L236.29 1026.69 L236.66 1024.38 L237.03 1022.06 L237.39 1019.75 L237.75 1017.44 L238.1 1015.13 L238.45 1012.82 L238.78 1010.51 L239.12 1008.19 L239.45 1005.88 L239.78 1003.57 L240.1 1001.26 L240.42 998.95 L240.74 996.63 L241.06 994.32 L241.38 992.01 L241.69 989.7 L242.01 987.39 L242.33 985.07 L242.64 982.76 L242.96 980.45 L243.29 978.14 L243.61 975.83 L243.94 973.52 L244.27 971.2 L244.6 968.89 L244.94 966.58 L245.29 964.27 L245.64 961.96 L245.99 959.64 L246.35 957.33 L246.72 955.02 L247.1 952.71 L247.49 950.4 L247.88 948.08 L248.28 945.77 L248.7 943.46 L249.12 941.15 L249.55 938.84 L250 936.53 L250.46 934.21 L250.92 931.9 L251.41 929.59 L251.9 927.28 L252.41 924.97 L252.93 922.65 L253.47 920.34 L254.02 918.03 L254.59 915.72 L255.17 913.41 L255.78 911.09 L256.39 908.78 L257.03 906.47 L257.68 904.16 L258.36 901.85 L259.05 899.54 L259.76 897.22 L260.5 894.91 L261.25 892.6 L262.4 891.06 L263.54 889.53 L264.69 888.01 L265.83 886.49 L266.98 884.95 L268.12 883.4 L269.27 881.89 L270.42 880.51 L271.56 879.16 L272.71 877.82 L273.85 876.5 L275 875.19 L276.15 873.91 L277.29 872.65 L278.44 871.44 L279.58 870.26 L280.73 869.13 L281.87 868.05 L283.02 867.03 L284.17 866.07 L285.31 865.18 L286.46 864.35 L287.6 863.57 L288.75 862.81 L289.89 862.08 L291.04 861.38 L292.19 860.71 L293.33 860.06 L294.48 859.44 L295.62 858.85 L296.77 858.28 L297.92 857.74 L299.06 857.22 L300.21 856.73 L301.35 856.26 L302.5 855.81 L303.64 855.38 L304.79 854.97 L305.94 854.56 L307.08 854.17 L308.23 853.8 L309.37 853.44 L310.52 853.09 L311.67 852.76 L312.81 852.44 L313.96 852.14 L315.1 851.85 L316.25 851.58 L317.39 851.32 L318.54 851.08 L319.69 850.84 L320.83 850.62 L321.98 850.41 L323.12 850.21 L324.27 850.01 L325.41 849.82 L326.56 849.64 L327.71 849.47 L328.85 849.3 L330 849.14 L331.14 848.98 L332.29 848.82 L333.44 848.66 L334.58 848.51 L335.73 848.37 L336.87 848.22 L338.02 848.09 L339.16 847.95 L340.31 847.82 L341.46 847.69 L342.6 847.57 L343.75 847.45 L344.89 847.34 L346.04 847.22 L347.18 847.12 L348.33 847.01 L349.48 846.9 L350.62 846.8 L351.77 846.7 L352.91 846.6 L354.06 846.5 L355.21 846.4 L356.35 846.31 L357.5 846.22 L358.64 846.14 L359.79 846.06 L360.93 845.98 L362.08 845.91 L363.23 845.85 L364.37 845.78 L365.52 845.71 L366.66 845.65 L367.81 845.59 L368.96 845.53 L370.1 845.47 L371.25 845.42 L372.39 845.36 L373.54 845.32 L374.68 845.27 L375.83 845.23 L376.98 845.19 L378.12 845.16 L379.27 845.13 L380.41 845.1 L381.56 845.07 L382.7 845.04 L383.85 845.01 L385 844.98 L386.14 844.96 L387.29 844.93 L388.43 844.91 L389.58 844.89 L390.73 844.87 L391.87 844.85 L393.02 844.84 L394.16 844.82 L395.31 844.81 L396.45 844.8 L397.6 844.8" fill="none" stroke="#000000" stroke-width="2.1" stroke-linejoin="round"/>
<text x="144.03" y="860.65" font-size="39.4" fill="#262626" font-family="'Liberation Sans', sans-serif" letter-spacing="1.14">0</text>
<text x="74.86" y="968.82" font-size="39.4" fill="#262626" font-family="'Liberation Sans', sans-serif" letter-spacing="1.14">2000</text>
<text x="74.86" y="1076.99" font-size="39.4" fill="#262626" font-family="'Liberation Sans', sans-serif" letter-spacing="1.14">4000</text>
<text x="74.86" y="1185.16" font-size="39.4" fill="#262626" font-family="'Liberation Sans', sans-serif" letter-spacing="1.14">6000</text>
<text x="74.86" y="1293.33" font-size="39.4" fill="#262626" font-family="'Liberation Sans', sans-serif" letter-spacing="1.14">8000</text>
<text x="51.8" y="1401.5" font-size="39.4" fill="#262626" font-family="'Liberation Sans', sans-serif" letter-spacing="1.14">10000</text>
<text x="151.41" y="1458.2" font-size="39.4" fill="#262626" font-family="'Liberation Sans', sans-serif" letter-spacing="1.14">10</text>
<text x="198.1" y="1434.9" font-size="31.5" fill="#262626" font-family="'Liberation Sans', sans-serif" letter-spacing="1">0</text>
<text x="370.37" y="1458.2" font-size="39.4" fill="#262626" font-family="'Liberation Sans', sans-serif" letter-spacing="1.14">10</text>
<text x="417.04" y="1434.9" font-size="31.5" fill="#262626" font-family="'Liberation Sans', sans-serif" letter-spacing="1">5</text>
<text x="580.53" y="1458.2" font-size="39.4" fill="#262626" font-family="'Liberation Sans', sans-serif" letter-spacing="1.14">10</text>
<text x="626.06" y="1434.9" font-size="31.5" fill="#262626" font-family="'Liberation Sans', sans-serif" letter-spacing="1">10</text>
<text x="257.71" y="1513.1" font-size="42.5" fill="#262626" font-family="'Liberation Sans', sans-serif" letter-spacing="-0.11">Viscosity (Pa s)</text>
<text transform="translate(31.1 1210.69) rotate(-90)" font-size="42.5" fill="#262626" font-family="'Liberation Sans', sans-serif" letter-spacing="-0.1">Depth (m)</text>
<text x="199.32" y="823.6" font-size="68.5" fill="#000" font-family="'Liberation Sans', sans-serif">d</text>
<path d="M1074.55 1385 V1378.7 M1074.55 844.15 V849.75 M856 952.32 H862 M1293.1 952.32 H1286.6 M856 1060.49 H862 M1293.1 1060.49 H1286.6 M856 1168.66 H862 M1293.1 1168.66 H1286.6 M856 1276.83 H862 M1293.1 1276.83 H1286.6" fill="none" stroke="#262626" stroke-width="2"/>
<rect x="856" y="844.15" width="437.1" height="540.85" fill="none" stroke="#262626" stroke-width="2"/>
<path d="M864.44 847.04 L866.95 847.27 L869.47 847.51 L871.98 847.75 L874.5 848.01 L877.01 848.27 L879.52 848.54 L882.04 848.82 L884.55 849.11 L887.07 849.4 L889.58 849.71 L892.09 850.02 L894.61 850.34 L897.12 850.67 L899.64 851.01 L902.15 851.36 L904.66 851.71 L907.18 852.08 L909.69 852.45 L912.21 852.83 L914.72 853.22 L917.24 853.62 L919.75 854.03 L922.26 854.44 L924.78 854.87 L927.29 855.3 L929.81 855.74 L932.32 856.19 L934.83 856.65 L937.35 857.11 L939.86 857.59 L942.38 858.07 L944.89 858.56 L947.4 859.06 L949.92 859.57 L952.43 860.09 L954.95 860.61 L957.46 861.15 L959.97 861.69 L962.49 862.24 L965 862.8 L967.52 863.37 L970.03 863.95 L972.54 864.53 L975.06 865.13 L977.57 865.73 L980.09 866.34 L982.6 866.96 L985.11 867.59 L987.63 868.22 L990.14 868.87 L992.66 869.52 L995.17 870.19 L997.68 870.86 L1000.2 871.54 L1002.71 872.22 L1005.23 872.92 L1007.74 873.62 L1010.25 874.34 L1012.77 875.06 L1015.28 875.79 L1017.8 876.53 L1020.31 877.28 L1022.83 878.03 L1025.34 878.8 L1027.85 879.57 L1030.37 880.35 L1032.88 881.15 L1035.4 881.94 L1037.91 882.75 L1040.42 883.57 L1042.94 884.39 L1045.45 885.23 L1047.97 886.07 L1050.48 886.92 L1052.99 887.78 L1055.51 888.65 L1058.02 889.52 L1060.54 890.41 L1063.05 891.3 L1064.6 892.62 L1066.16 893.94 L1067.71 895.27 L1069.27 896.59 L1070.82 897.92 L1072.37 899.26 L1073.93 900.6 L1075.48 901.94 L1077.03 903.29 L1078.59 904.64 L1080.14 906 L1081.7 907.37 L1083.25 908.74 L1084.8 910.11 L1086.36 911.5 L1087.91 912.89 L1089.46 914.29 L1091.02 915.69 L1092.57 917.11 L1094.13 918.53 L1095.68 919.96 L1097.23 921.4 L1098.79 922.85 L1100.34 924.31 L1101.89 925.78 L1103.45 927.26 L1105 928.75 L1106.56 930.25 L1108.11 931.77 L1109.66 933.29 L1111.22 934.83 L1112.77 936.38 L1114.33 937.94 L1115.88 939.52 L1117.43 941.11 L1118.99 942.71 L1120.54 944.32 L1122.09 945.95 L1123.65 947.6 L1125.2 949.26 L1126.76 950.94 L1128.31 952.63 L1129.86 954.33 L1131.42 956.06 L1132.97 957.8 L1134.52 959.56 L1136.08 961.33 L1137.63 963.12 L1139.19 964.93 L1140.74 966.76 L1142.29 968.61 L1143.85 970.48 L1145.4 972.36 L1146.96 974.27 L1148.51 976.19 L1150.06 978.14 L1151.62 980.1 L1153.17 982.09 L1154.72 984.1 L1156.28 986.13 L1157.83 988.18 L1159.39 990.26 L1160.94 992.35 L1162.49 994.47 L1164.05 996.62 L1165.6 998.78 L1167.15 1000.97 L1168.71 1003.19 L1170.26 1005.43 L1171.82 1007.69 L1173.37 1009.98 L1174.92 1012.3 L1176.48 1014.64 L1178.03 1017.01 L1179.58 1019.4 L1181.14 1021.82 L1182.69 1024.27 L1184.25 1026.75 L1185.8 1029.25 L1187.51 1033.75 L1189.2 1038.26 L1190.87 1042.76 L1192.53 1047.26 L1194.18 1051.77 L1195.81 1056.27 L1197.43 1060.77 L1199.03 1065.28 L1200.62 1069.78 L1202.2 1074.28 L1203.76 1078.78 L1205.31 1083.29 L1206.85 1087.79 L1208.37 1092.29 L1209.89 1096.8 L1211.39 1101.3 L1212.88 1105.8 L1214.36 1110.31 L1215.83 1114.81 L1217.29 1119.31 L1218.74 1123.82 L1220.19 1128.32 L1221.62 1132.82 L1223.04 1137.33 L1224.46 1141.83 L1225.86 1146.33 L1227.26 1150.84 L1228.65 1155.34 L1230.03 1159.84 L1231.41 1164.34 L1232.78 1168.85 L1234.14 1173.35 L1235.5 1177.85 L1236.85 1182.36 L1238.2 1186.86 L1239.54 1191.36 L1240.88 1195.87 L1242.21 1200.37 L1243.54 1204.87 L1244.86 1209.38 L1246.18 1213.88 L1247.49 1218.38 L1248.8 1222.89 L1250.1 1227.39 L1251.4 1231.89 L1252.69 1236.4 L1253.98 1240.9 L1255.26 1245.4 L1256.53 1249.91 L1257.8 1254.41 L1259.06 1258.91 L1260.32 1263.41 L1261.57 1267.92 L1262.81 1272.42 L1264.04 1276.92 L1265.27 1281.43 L1266.49 1285.93 L1267.7 1290.43 L1268.9 1294.94 L1270.1 1299.44 L1271.29 1303.94 L1272.47 1308.45 L1273.64 1312.95 L1274.8 1317.45 L1275.95 1321.96 L1277.1 1326.46 L1278.23 1330.96 L1279.36 1335.47 L1280.48 1339.97 L1281.59 1344.47 L1282.68 1348.97 L1283.77 1353.48 L1284.85 1357.98 L1285.92 1362.48 L1286.98 1366.99 L1288.02 1371.49 L1289.06 1375.99 L1290.09 1380.5 L1291.1 1385" fill="none" stroke="#0000ff" stroke-width="2.1" stroke-linejoin="round"/>
<path d="M863 870.15 L865.62 870.47 L868.23 870.8 L870.85 871.13 L873.46 871.45 L876.08 871.78 L878.69 872.11 L881.31 872.44 L883.92 872.77 L886.54 873.1 L889.15 873.43 L891.77 873.77 L894.38 874.1 L897 874.44 L899.61 874.78 L902.23 875.12 L904.84 875.46 L907.46 875.8 L910.07 876.14 L912.69 876.49 L915.31 876.83 L917.92 877.18 L920.54 877.53 L923.15 877.89 L925.77 878.24 L928.38 878.59 L931 878.95 L933.61 879.31 L936.23 879.67 L938.84 880.04 L941.46 880.4 L944.07 880.77 L946.69 881.14 L949.3 881.52 L951.92 881.89 L954.53 882.27 L957.15 882.65 L959.76 883.03 L962.38 883.42 L964.99 883.8 L967.61 884.19 L970.23 884.59 L972.84 884.98 L975.46 885.38 L978.07 885.79 L980.69 886.19 L983.3 886.6 L985.92 887.01 L988.53 887.42 L991.15 887.84 L993.76 888.26 L996.38 888.69 L998.99 889.11 L1001.61 889.54 L1004.22 889.98 L1006.84 890.41 L1009.45 890.86 L1012.07 891.3 L1014.68 891.75 L1017.3 892.2 L1019.47 893.23 L1021.65 894.27 L1023.82 895.32 L1026 896.38 L1028.17 897.45 L1030.35 898.53 L1032.52 899.62 L1034.69 900.72 L1036.87 901.83 L1039.04 902.95 L1041.22 904.08 L1043.39 905.21 L1045.57 906.36 L1047.74 907.52 L1049.92 908.69 L1052.09 909.88 L1054.26 911.08 L1056.44 912.29 L1058.61 913.51 L1060.79 914.75 L1062.96 916 L1065.14 917.25 L1067.31 918.52 L1069.48 919.8 L1071.66 921.09 L1073.83 922.4 L1076.01 923.72 L1078.18 925.05 L1080.36 926.4 L1082.53 927.77 L1084.71 929.16 L1086.88 930.57 L1089.05 932 L1091.23 933.45 L1093.4 934.92 L1095.58 936.42 L1097.75 937.93 L1099.93 939.46 L1102.1 941 L1104.06 942.82 L1106.02 944.65 L1107.98 946.48 L1109.94 948.32 L1111.9 950.17 L1113.86 952.02 L1115.82 953.89 L1117.78 955.77 L1119.74 957.66 L1121.71 959.57 L1123.67 961.49 L1125.63 963.43 L1127.59 965.4 L1129.55 967.38 L1131.51 969.39 L1133.47 971.42 L1135.43 973.48 L1137.39 975.57 L1139.35 977.69 L1141.31 979.84 L1143.27 982.02 L1145.23 984.23 L1147.19 986.48 L1149.15 988.77 L1151.11 991.1 L1153.07 993.47 L1155.03 995.88 L1156.99 998.33 L1158.95 1000.83 L1160.92 1003.37 L1162.88 1005.97 L1164.84 1008.61 L1166.8 1011.31 L1168.76 1014.06 L1170.72 1016.86 L1172.68 1019.72 L1174.64 1022.64 L1176.6 1025.61 L1178.56 1028.65 L1180.22 1033.16 L1181.91 1037.67 L1183.62 1042.18 L1185.35 1046.69 L1187.08 1051.2 L1188.82 1055.71 L1190.54 1060.23 L1192.25 1064.74 L1193.94 1069.25 L1195.6 1073.76 L1197.23 1078.27 L1198.84 1082.78 L1200.42 1087.29 L1201.97 1091.8 L1203.51 1096.31 L1205.02 1100.82 L1206.51 1105.33 L1207.98 1109.84 L1209.43 1114.35 L1210.86 1118.87 L1212.28 1123.38 L1213.68 1127.89 L1215.06 1132.4 L1216.44 1136.91 L1217.79 1141.42 L1219.14 1145.93 L1220.48 1150.44 L1221.8 1154.95 L1223.12 1159.46 L1224.43 1163.97 L1225.73 1168.48 L1227.03 1172.99 L1228.32 1177.51 L1229.61 1182.02 L1230.9 1186.53 L1232.18 1191.04 L1233.46 1195.55 L1234.74 1200.06 L1236.01 1204.57 L1237.28 1209.08 L1238.54 1213.59 L1239.8 1218.1 L1241.06 1222.61 L1242.31 1227.12 L1243.56 1231.63 L1244.81 1236.14 L1246.05 1240.66 L1247.28 1245.17 L1248.51 1249.68 L1249.74 1254.19 L1250.96 1258.7 L1252.18 1263.21 L1253.39 1267.72 L1254.6 1272.23 L1255.8 1276.74 L1257 1281.25 L1258.19 1285.76 L1259.38 1290.27 L1260.56 1294.78 L1261.74 1299.3 L1262.91 1303.81 L1264.07 1308.32 L1265.23 1312.83 L1266.38 1317.34 L1267.53 1321.85 L1268.67 1326.36 L1269.8 1330.87 L1270.93 1335.38 L1272.05 1339.89 L1273.17 1344.4 L1274.28 1348.91 L1275.38 1353.42 L1276.48 1357.94 L1277.56 1362.45 L1278.65 1366.96 L1279.72 1371.47 L1280.79 1375.98 L1281.85 1380.49 L1282.9 1385" fill="none" stroke="#ff0000" stroke-width="2.1" stroke-linejoin="round"/>
<path d="M874.67 844.6 L877.03 844.76 L879.39 844.94 L881.75 845.13 L884.12 845.34 L886.48 845.56 L888.84 845.8 L891.2 846.05 L893.56 846.31 L895.92 846.59 L898.29 846.88 L900.65 847.18 L903.01 847.5 L905.37 847.83 L907.73 848.17 L910.09 848.53 L912.46 848.9 L914.82 849.28 L917.18 849.68 L919.54 850.09 L921.9 850.51 L924.26 850.94 L926.63 851.38 L928.99 851.84 L931.35 852.31 L933.71 852.79 L936.07 853.28 L938.43 853.78 L940.8 854.29 L943.16 854.82 L945.52 855.35 L947.88 855.9 L950.24 856.46 L952.6 857.02 L954.97 857.6 L957.33 858.19 L959.69 858.79 L962.05 859.4 L964.41 860.01 L966.77 860.64 L969.14 861.28 L971.5 861.93 L973.86 862.58 L976.22 863.25 L978.58 863.93 L980.94 864.61 L983.31 865.3 L985.67 866 L988.03 866.71 L990.39 867.43 L992.75 868.16 L995.11 868.89 L997.48 869.63 L999.84 870.38 L1002.2 871.14 L1004.56 871.91 L1006.92 872.68 L1009.28 873.46 L1011.65 874.25 L1014.01 875.04 L1016.37 875.84 L1018.73 876.65 L1021.09 877.47 L1023.45 878.29 L1025.82 879.12 L1028.18 879.95 L1030.54 880.79 L1032.9 881.63 L1035.26 882.49 L1037.62 883.34 L1039.99 884.21 L1042.35 885.08 L1044.71 885.95 L1047.07 886.83 L1049.43 887.71 L1051.79 888.6 L1054.16 889.49 L1056.52 890.39 L1058.88 891.29 L1061.24 892.2 L1062.7 893.49 L1064.16 894.8 L1065.63 896.11 L1067.09 897.43 L1068.55 898.76 L1070.01 900.1 L1071.48 901.44 L1072.94 902.8 L1074.4 904.17 L1075.86 905.55 L1077.32 906.94 L1078.79 908.34 L1080.25 909.75 L1081.71 911.17 L1083.17 912.6 L1084.63 914.05 L1086.1 915.5 L1087.56 916.97 L1089.02 918.45 L1090.48 919.94 L1091.95 921.44 L1093.41 922.95 L1094.87 924.48 L1096.33 926.02 L1097.79 927.57 L1099.26 929.14 L1100.72 930.72 L1102.18 932.31 L1103.64 933.92 L1105.1 935.54 L1106.57 937.17 L1108.03 938.82 L1109.49 940.48 L1110.95 942.16 L1112.42 943.85 L1113.88 945.56 L1115.34 947.28 L1116.8 949.02 L1118.26 950.77 L1119.73 952.54 L1121.19 954.32 L1122.65 956.12 L1124.11 957.94 L1125.57 959.77 L1127.04 961.62 L1128.5 963.48 L1129.96 965.37 L1131.42 967.27 L1132.89 969.18 L1134.35 971.12 L1135.81 973.06 L1137.27 975.03 L1138.73 977 L1140.2 978.99 L1141.66 980.99 L1143.12 983 L1144.58 985.02 L1146.04 987.05 L1147.51 989.08 L1148.97 991.12 L1150.43 993.16 L1151.89 995.2 L1153.36 997.25 L1154.82 999.29 L1156.28 1001.34 L1157.74 1003.38 L1159.2 1005.42 L1160.67 1007.46 L1162.13 1009.49 L1163.59 1011.51 L1165.05 1013.53 L1166.51 1015.54 L1167.98 1017.54 L1169.44 1019.52 L1170.9 1021.5 L1172.36 1023.46 L1173.83 1025.41 L1175.29 1027.34 L1176.75 1029.25 L1178.46 1033.75 L1180.15 1038.26 L1181.82 1042.76 L1183.48 1047.26 L1185.13 1051.77 L1186.76 1056.27 L1188.37 1060.77 L1189.97 1065.28 L1191.56 1069.78 L1193.13 1074.28 L1194.69 1078.78 L1196.23 1083.29 L1197.76 1087.79 L1199.27 1092.29 L1200.78 1096.8 L1202.27 1101.3 L1203.74 1105.8 L1205.21 1110.31 L1206.66 1114.81 L1208.1 1119.31 L1209.53 1123.82 L1210.94 1128.32 L1212.35 1132.82 L1213.74 1137.33 L1215.13 1141.83 L1216.5 1146.33 L1217.86 1150.84 L1219.21 1155.34 L1220.55 1159.84 L1221.88 1164.34 L1223.2 1168.85 L1224.51 1173.35 L1225.81 1177.85 L1227.1 1182.36 L1228.39 1186.86 L1229.66 1191.36 L1230.93 1195.87 L1232.19 1200.37 L1233.44 1204.87 L1234.68 1209.38 L1235.91 1213.88 L1237.14 1218.38 L1238.36 1222.89 L1239.57 1227.39 L1240.78 1231.89 L1241.98 1236.4 L1243.17 1240.9 L1244.36 1245.4 L1245.54 1249.91 L1246.72 1254.41 L1247.89 1258.91 L1249.05 1263.41 L1250.21 1267.92 L1251.37 1272.42 L1252.52 1276.92 L1253.66 1281.43 L1254.8 1285.93 L1255.94 1290.43 L1257.08 1294.94 L1258.21 1299.44 L1259.33 1303.94 L1260.46 1308.45 L1261.58 1312.95 L1262.7 1317.45 L1263.81 1321.96 L1264.93 1326.46 L1266.04 1330.96 L1267.15 1335.47 L1268.26 1339.97 L1269.36 1344.47 L1270.47 1348.97 L1271.57 1353.48 L1272.68 1357.98 L1273.78 1362.48 L1274.89 1366.99 L1275.99 1371.49 L1277.09 1375.99 L1278.2 1380.5 L1279.3 1385" fill="none" stroke="#000000" stroke-width="2.1" stroke-linejoin="round"/>
<text x="815.93" y="860.65" font-size="39.4" fill="#262626" font-family="'Liberation Sans', sans-serif" letter-spacing="1.14">0</text>
<text x="746.76" y="968.82" font-size="39.4" fill="#262626" font-family="'Liberation Sans', sans-serif" letter-spacing="1.14">2000</text>
<text x="746.76" y="1076.99" font-size="39.4" fill="#262626" font-family="'Liberation Sans', sans-serif" letter-spacing="1.14">4000</text>
<text x="746.76" y="1185.16" font-size="39.4" fill="#262626" font-family="'Liberation Sans', sans-serif" letter-spacing="1.14">6000</text>
<text x="746.76" y="1293.33" font-size="39.4" fill="#262626" font-family="'Liberation Sans', sans-serif" letter-spacing="1.14">8000</text>
<text x="723.7" y="1401.5" font-size="39.4" fill="#262626" font-family="'Liberation Sans', sans-serif" letter-spacing="1.14">10000</text>
<text x="844.74" y="1444.35" font-size="39.4" fill="#262626" font-family="'Liberation Sans', sans-serif" letter-spacing="1.14">0</text>
<text x="1045.73" y="1444.35" font-size="39.4" fill="#262626" font-family="'Liberation Sans', sans-serif" letter-spacing="0.39">0.5</text>
<text x="1281.31" y="1444.35" font-size="39.4" fill="#262626" font-family="'Liberation Sans', sans-serif" letter-spacing="1.14">1</text>
<text x="772.91" y="1513.1" font-size="42.5" fill="#262626" font-family="'Liberation Sans', sans-serif" letter-spacing="-0.05">Dyke propagation velocity (m/s)</text>
<text transform="translate(703 1210.69) rotate(-90)" font-size="42.5" fill="#262626" font-family="'Liberation Sans', sans-serif" letter-spacing="-0.1">Depth (m)</text>
<text x="862.29" y="823.6" font-size="68.5" fill="#000" font-family="'Liberation Sans', sans-serif">e</text>
<path d="M1529 952.32 H1535.8 M1964.6 952.32 H1957.8 M1529 1060.49 H1535.8 M1964.6 1060.49 H1957.8 M1529 1168.66 H1535.8 M1964.6 1168.66 H1957.8 M1529 1276.83 H1535.8 M1964.6 1276.83 H1957.8" fill="none" stroke="#262626" stroke-width="2"/>
<rect x="1529" y="844.15" width="435.6" height="540.85" fill="none" stroke="#262626" stroke-width="2"/>
<path d="M1616.29 1385 L1642.52 1384.46 L1657.87 1383.92 L1668.76 1383.38 L1677.21 1382.84 L1684.11 1382.3 L1689.95 1381.75 L1695.01 1381.21 L1699.47 1380.67 L1703.46 1380.13 L1707.07 1379.59 L1710.37 1379.05 L1713.4 1378.51 L1716.21 1377.97 L1718.83 1377.43 L1721.28 1376.89 L1723.58 1376.35 L1725.74 1375.81 L1727.79 1375.26 L1729.74 1374.72 L1731.59 1374.18 L1733.36 1373.64 L1735.04 1373.1 L1736.66 1372.56 L1738.21 1372.02 L1739.7 1371.48 L1741.13 1370.94 L1742.51 1370.4 L1743.85 1369.86 L1745.14 1369.32 L1746.38 1368.77 L1747.59 1368.23 L1748.76 1367.69 L1749.89 1367.15 L1751 1366.61 L1752.07 1366.07 L1753.11 1365.53 L1754.12 1364.99 L1755.11 1364.45 L1756.08 1363.91 L1757.01 1363.37 L1757.93 1362.83 L1758.83 1362.28 L1759.7 1361.74 L1760.56 1361.2 L1761.4 1360.66 L1762.22 1360.12 L1763.02 1359.58 L1763.8 1359.04 L1764.57 1358.5 L1765.33 1357.96 L1766.07 1357.42 L1766.79 1356.88 L1767.51 1356.33 L1768.21 1355.79 L1768.89 1355.25 L1769.57 1354.71 L1770.23 1354.17 L1770.89 1353.63 L1771.53 1353.09 L1772.16 1352.55 L1772.78 1352.01 L1773.39 1351.47 L1773.99 1350.93 L1774.58 1350.39 L1775.17 1349.84 L1775.74 1349.3 L1776.31 1348.76 L1776.87 1348.22 L1777.42 1347.68 L1777.96 1347.14 L1778.49 1346.6 L1779.02 1346.06 L1779.54 1345.52 L1780.05 1344.98 L1780.56 1344.44 L1781.06 1343.9 L1781.56 1343.35 L1782.04 1342.81 L1782.53 1342.27 L1783 1341.73 L1783.47 1341.19 L1783.94 1340.65 L1784.39 1340.11 L1784.85 1339.57 L1785.3 1339.03 L1785.74 1338.49 L1786.18 1337.95 L1786.61 1337.41 L1787.04 1336.86 L1787.46 1336.32 L1787.88 1335.78 L1788.3 1335.24 L1788.71 1334.7 L1789.11 1334.16 L1789.52 1333.62 L1789.91 1333.08 L1790.31 1332.54 L1790.7 1332 L1791.08 1331.46 L1791.47 1330.91 L1791.84 1330.37 L1792.22 1329.83 L1792.59 1329.29 L1792.96 1328.75 L1793.32 1328.21 L1793.68 1327.67 L1794.04 1327.13 L1794.4 1326.59 L1794.75 1326.05 L1795.1 1325.51 L1795.44 1324.97 L1795.78 1324.42 L1796.12 1323.88 L1796.46 1323.34 L1796.79 1322.8 L1797.12 1322.26 L1797.45 1321.72 L1797.78 1321.18 L1798.1 1320.64 L1798.42 1320.1 L1798.74 1319.56 L1799.05 1319.02 L1799.36 1318.48 L1799.67 1317.93 L1799.98 1317.39 L1800.29 1316.85 L1800.59 1316.31 L1800.89 1315.77 L1801.19 1315.23 L1801.48 1314.69 L1801.78 1314.15 L1802.07 1313.61 L1802.36 1313.07 L1802.65 1312.53 L1802.93 1311.99 L1803.22 1311.44 L1803.5 1310.9 L1803.78 1310.36 L1804.05 1309.82 L1804.33 1309.28 L1804.6 1308.74 L1804.87 1308.2 L1805.14 1307.66 L1805.41 1307.12 L1805.68 1306.58 L1805.94 1306.04 L1806.2 1305.5 L1806.47 1304.95 L1806.72 1304.41 L1806.98 1303.87 L1807.24 1303.33 L1807.49 1302.79 L1807.74 1302.25 L1808 1301.71 L1808.25 1301.17 L1808.49 1300.63 L1808.74 1300.09 L1808.98 1299.55 L1809.23 1299 L1809.47 1298.46 L1809.71 1297.92 L1809.95 1297.38 L1810.19 1296.84 L1810.42 1296.3 L1810.66 1295.76 L1810.89 1295.22 L1811.12 1294.68 L1811.35 1294.14 L1811.58 1293.6 L1811.81 1293.06 L1812.04 1292.51 L1812.26 1291.97 L1812.49 1291.43 L1812.71 1290.89 L1812.93 1290.35 L1813.15 1289.81 L1813.37 1289.27 L1813.59 1288.73 L1813.81 1288.19 L1814.03 1287.65 L1814.24 1287.11 L1814.45 1286.57 L1814.67 1286.02 L1814.88 1285.48 L1815.09 1284.94 L1815.3 1284.4 L1815.51 1283.86 L1815.71 1283.32 L1815.92 1282.78 L1816.12 1282.24 L1816.33 1281.7 L1816.53 1281.16 L1816.73 1280.62 L1816.93 1280.08 L1817.13 1279.53 L1817.33 1278.99 L1817.53 1278.45 L1817.73 1277.91 L1817.92 1277.37 L1818.12 1276.83 L1818.31 1276.29 L1818.51 1275.75 L1818.7 1275.21 L1818.89 1274.67 L1819.08 1274.13 L1819.27 1273.58 L1819.46 1273.04 L1819.65 1272.5 L1819.83 1271.96 L1820.02 1271.42 L1820.2 1270.88 L1820.39 1270.34 L1820.57 1269.8 L1820.76 1269.26 L1820.94 1268.72 L1821.12 1268.18 L1821.3 1267.64 L1821.48 1267.09 L1821.66 1266.55 L1821.84 1266.01 L1822.01 1265.47 L1822.19 1264.93 L1822.37 1264.39 L1822.54 1263.85 L1822.72 1263.31 L1822.89 1262.77 L1823.06 1262.23 L1823.23 1261.69 L1823.41 1261.15 L1823.58 1260.6 L1823.75 1260.06 L1823.92 1259.52 L1824.08 1258.98 L1824.25 1258.44 L1824.42 1257.9 L1824.59 1257.36 L1824.75 1256.82 L1824.92 1256.28 L1825.08 1255.74 L1825.25 1255.2 L1825.41 1254.66 L1825.57 1254.11 L1825.73 1253.57 L1825.9 1253.03 L1826.06 1252.49 L1826.22 1251.95 L1826.38 1251.41 L1826.53 1250.87 L1826.69 1250.33 L1826.85 1249.79 L1827.01 1249.25 L1827.16 1248.71 L1827.32 1248.16 L1827.48 1247.62 L1827.63 1247.08 L1827.79 1246.54 L1827.94 1246 L1828.09 1245.46 L1828.24 1244.92 L1828.4 1244.38 L1828.55 1243.84 L1828.7 1243.3 L1828.85 1242.76 L1829 1242.22 L1829.15 1241.67 L1829.3 1241.13 L1829.45 1240.59 L1829.59 1240.05 L1829.74 1239.51 L1829.89 1238.97 L1830.03 1238.43 L1830.18 1237.89 L1830.32 1237.35 L1830.47 1236.81 L1830.61 1236.27 L1830.76 1235.73 L1830.9 1235.18 L1831.04 1234.64 L1831.18 1234.1 L1831.33 1233.56 L1831.47 1233.02 L1831.61 1232.48 L1831.75 1231.94 L1831.89 1231.4 L1832.03 1230.86 L1832.17 1230.32 L1832.31 1229.78 L1832.44 1229.24 L1832.58 1228.69 L1832.72 1228.15 L1832.85 1227.61 L1832.99 1227.07 L1833.13 1226.53 L1833.26 1225.99 L1833.4 1225.45 L1833.53 1224.91 L1833.67 1224.37 L1833.8 1223.83 L1833.93 1223.29 L1834.07 1222.74 L1834.2 1222.2 L1834.33 1221.66 L1834.46 1221.12 L1834.59 1220.58 L1834.72 1220.04 L1834.85 1219.5 L1834.98 1218.96 L1835.11 1218.42 L1835.24 1217.88 L1835.37 1217.34 L1835.5 1216.8 L1835.63 1216.25 L1835.76 1215.71 L1835.88 1215.17 L1836.01 1214.63 L1836.14 1214.09 L1836.26 1213.55 L1836.39 1213.01 L1836.52 1212.47 L1836.64 1211.93 L1836.77 1211.39 L1836.89 1210.85 L1837.01 1210.31 L1837.14 1209.76 L1837.26 1209.22 L1837.38 1208.68 L1837.51 1208.14 L1837.63 1207.6 L1837.75 1207.06 L1837.87 1206.52 L1837.99 1205.98 L1838.11 1205.44 L1838.23 1204.9 L1838.36 1204.36 L1838.47 1203.82 L1838.59 1203.27 L1838.71 1202.73 L1838.83 1202.19 L1838.95 1201.65 L1839.07 1201.11 L1839.19 1200.57 L1839.31 1200.03 L1839.42 1199.49 L1839.54 1198.95 L1839.66 1198.41 L1839.77 1197.87 L1839.89 1197.33 L1840 1196.78 L1840.12 1196.24 L1840.24 1195.7 L1840.35 1195.16 L1840.46 1194.62 L1840.58 1194.08 L1840.69 1193.54 L1840.81 1193 L1840.92 1192.46 L1841.03 1191.92 L1841.15 1191.38 L1841.26 1190.83 L1841.37 1190.29 L1841.48 1189.75 L1841.59 1189.21 L1841.71 1188.67 L1841.82 1188.13 L1841.93 1187.59 L1842.04 1187.05 L1842.15 1186.51 L1842.26 1185.97 L1842.37 1185.43 L1842.48 1184.89 L1842.59 1184.34 L1842.7 1183.8 L1842.8 1183.26 L1842.91 1182.72 L1843.02 1182.18 L1843.13 1181.64 L1843.24 1181.1 L1843.34 1180.56 L1843.45 1180.02 L1843.56 1179.48 L1843.66 1178.94 L1843.77 1178.4 L1843.88 1177.85 L1843.98 1177.31 L1844.09 1176.77 L1844.19 1176.23 L1844.3 1175.69 L1844.4 1175.15 L1844.51 1174.61 L1844.61 1174.07 L1844.72 1173.53 L1844.82 1172.99 L1844.92 1172.45 L1845.03 1171.91 L1845.13 1171.36 L1845.23 1170.82 L1845.34 1170.28 L1845.44 1169.74 L1845.54 1169.2 L1845.64 1168.66 L1845.74 1168.12 L1845.85 1167.58 L1845.95 1167.04 L1846.05 1166.5 L1846.15 1165.96 L1846.25 1165.41 L1846.35 1164.87 L1846.45 1164.33 L1846.55 1163.79 L1846.65 1163.25 L1846.75 1162.71 L1846.85 1162.17 L1846.95 1161.63 L1847.05 1161.09 L1847.15 1160.55 L1847.24 1160.01 L1847.34 1159.47 L1847.44 1158.92 L1847.54 1158.38 L1847.64 1157.84 L1847.73 1157.3 L1847.83 1156.76 L1847.93 1156.22 L1848.02 1155.68 L1848.12 1155.14 L1848.22 1154.6 L1848.31 1154.06 L1848.41 1153.52 L1848.5 1152.98 L1848.6 1152.43 L1848.7 1151.89 L1848.79 1151.35 L1848.89 1150.81 L1848.98 1150.27 L1849.07 1149.73 L1849.17 1149.19 L1849.26 1148.65 L1849.36 1148.11 L1849.45 1147.57 L1849.54 1147.03 L1849.64 1146.49 L1849.73 1145.94 L1849.82 1145.4 L1849.92 1144.86 L1850.01 1144.32 L1850.1 1143.78 L1850.2 1143.24 L1850.29 1142.7 L1850.38 1142.16 L1850.47 1141.62 L1850.56 1141.08 L1850.65 1140.54 L1850.75 1139.99 L1850.84 1139.45 L1850.93 1138.91 L1851.02 1138.37 L1851.11 1137.83 L1851.2 1137.29 L1851.29 1136.75 L1851.38 1136.21 L1851.47 1135.67 L1851.56 1135.13 L1851.65 1134.59 L1851.74 1134.05 L1851.83 1133.5 L1851.92 1132.96 L1852 1132.42 L1852.09 1131.88 L1852.18 1131.34 L1852.27 1130.8 L1852.36 1130.26 L1852.45 1129.72 L1852.53 1129.18 L1852.62 1128.64 L1852.71 1128.1 L1852.8 1127.56 L1852.88 1127.01 L1852.97 1126.47 L1853.06 1125.93 L1853.14 1125.39 L1853.23 1124.85 L1853.32 1124.31 L1853.4 1123.77 L1853.49 1123.23 L1853.58 1122.69 L1853.66 1122.15 L1853.75 1121.61 L1853.83 1121.07 L1853.92 1120.52 L1854 1119.98 L1854.09 1119.44 L1854.17 1118.9 L1854.26 1118.36 L1854.34 1117.82 L1854.43 1117.28 L1854.51 1116.74 L1854.59 1116.2 L1854.68 1115.66 L1854.76 1115.12 L1854.85 1114.58 L1854.93 1114.03 L1855.01 1113.49 L1855.1 1112.95 L1855.18 1112.41 L1855.26 1111.87 L1855.35 1111.33 L1855.43 1110.79 L1855.51 1110.25 L1855.59 1109.71 L1855.68 1109.17 L1855.76 1108.63 L1855.84 1108.08 L1855.92 1107.54 L1856 1107 L1856.09 1106.46 L1856.17 1105.92 L1856.25 1105.38 L1856.33 1104.84 L1856.41 1104.3 L1856.49 1103.76 L1856.57 1103.22 L1856.65 1102.68 L1856.73 1102.14 L1856.81 1101.59 L1856.89 1101.05 L1856.97 1100.51 L1857.05 1099.97 L1857.13 1099.43 L1857.21 1098.89 L1857.29 1098.35 L1857.37 1097.81 L1857.45 1097.27 L1857.53 1096.73 L1857.61 1096.19 L1857.69 1095.65 L1857.77 1095.1 L1857.85 1094.56 L1857.93 1094.02 L1858 1093.48 L1858.08 1092.94 L1858.16 1092.4 L1858.24 1091.86 L1858.32 1091.32 L1858.4 1090.78 L1858.47 1090.24 L1858.55 1089.7 L1858.63 1089.16 L1858.71 1088.61 L1858.78 1088.07 L1858.86 1087.53 L1858.94 1086.99 L1859.01 1086.45 L1859.09 1085.91 L1859.17 1085.37 L1859.24 1084.83 L1859.32 1084.29 L1859.4 1083.75 L1859.47 1083.21 L1859.55 1082.66 L1859.63 1082.12 L1859.7 1081.58 L1859.78 1081.04 L1859.85 1080.5 L1859.93 1079.96 L1860 1079.42 L1860.08 1078.88 L1860.16 1078.34 L1860.23 1077.8 L1860.31 1077.26 L1860.38 1076.72 L1860.46 1076.17 L1860.53 1075.63 L1860.6 1075.09 L1860.68 1074.55 L1860.75 1074.01 L1860.83 1073.47 L1860.9 1072.93 L1860.98 1072.39 L1861.05 1071.85 L1861.12 1071.31 L1861.2 1070.77 L1861.27 1070.23 L1861.35 1069.68 L1861.42 1069.14 L1861.49 1068.6 L1861.57 1068.06 L1861.64 1067.52 L1861.71 1066.98 L1861.78 1066.44 L1861.86 1065.9 L1861.93 1065.36 L1862 1064.82 L1862.08 1064.28 L1862.15 1063.74 L1862.22 1063.19 L1862.29 1062.65 L1862.36 1062.11 L1862.44 1061.57 L1862.51 1061.03 L1862.58 1060.49 L1862.65 1059.95 L1862.72 1059.41 L1862.8 1058.87 L1862.87 1058.33 L1862.94 1057.79 L1863.01 1057.24 L1863.08 1056.7 L1863.15 1056.16 L1863.22 1055.62 L1863.29 1055.08 L1863.37 1054.54 L1863.44 1054 L1863.51 1053.46 L1863.58 1052.92 L1863.65 1052.38 L1863.72 1051.84 L1863.79 1051.3 L1863.86 1050.75 L1863.93 1050.21 L1864 1049.67 L1864.07 1049.13 L1864.14 1048.59 L1864.21 1048.05 L1864.28 1047.51 L1864.35 1046.97 L1864.42 1046.43 L1864.49 1045.89 L1864.56 1045.35 L1864.63 1044.81 L1864.7 1044.26 L1864.76 1043.72 L1864.83 1043.18 L1864.9 1042.64 L1864.97 1042.1 L1865.04 1041.56 L1865.11 1041.02 L1865.18 1040.48 L1865.25 1039.94 L1865.31 1039.4 L1865.38 1038.86 L1865.45 1038.32 L1865.52 1037.77 L1865.59 1037.23 L1865.65 1036.69 L1865.72 1036.15 L1865.79 1035.61 L1865.86 1035.07 L1865.93 1034.53 L1865.99 1033.99 L1866.06 1033.45 L1866.13 1032.91 L1866.2 1032.37 L1866.26 1031.82 L1866.33 1031.28 L1866.4 1030.74 L1866.47 1030.2 L1866.53 1029.66 L1866.6 1029.12 L1866.67 1028.58 L1866.73 1028.04 L1866.8 1027.5 L1866.87 1026.96 L1866.93 1026.42 L1867 1025.88 L1867.07 1025.33 L1867.13 1024.79 L1867.2 1024.25 L1867.27 1023.71 L1867.33 1023.17 L1867.4 1022.63 L1867.46 1022.09 L1867.53 1021.55 L1867.6 1021.01 L1867.66 1020.47 L1867.73 1019.93 L1867.8 1019.39 L1867.86 1018.84 L1867.93 1018.3 L1867.99 1017.76 L1868.06 1017.22 L1868.13 1016.68 L1868.19 1016.14 L1868.26 1015.6 L1868.32 1015.06 L1868.39 1014.52 L1868.45 1013.98 L1868.52 1013.44 L1868.59 1012.9 L1868.65 1012.35 L1868.72 1011.81 L1868.78 1011.27 L1868.85 1010.73 L1868.91 1010.19 L1868.98 1009.65 L1869.04 1009.11 L1869.11 1008.57 L1869.17 1008.03 L1869.24 1007.49 L1869.3 1006.95 L1869.37 1006.4 L1869.43 1005.86 L1869.5 1005.32 L1869.56 1004.78 L1869.63 1004.24 L1869.69 1003.7 L1869.76 1003.16 L1869.82 1002.62 L1869.89 1002.08 L1869.95 1001.54 L1870.02 1001 L1870.08 1000.46 L1870.15 999.91 L1870.21 999.37 L1870.28 998.83 L1870.34 998.29 L1870.41 997.75 L1870.47 997.21 L1870.54 996.67 L1870.6 996.13 L1870.66 995.59 L1870.73 995.05 L1870.79 994.51 L1870.86 993.97 L1870.92 993.42 L1870.99 992.88 L1871.05 992.34 L1871.12 991.8 L1871.18 991.26 L1871.24 990.72 L1871.31 990.18 L1871.37 989.64 L1871.44 989.1 L1871.5 988.56 L1871.56 988.02 L1871.63 987.48 L1871.69 986.93 L1871.76 986.39 L1871.82 985.85 L1871.89 985.31 L1871.95 984.77 L1872.01 984.23 L1872.08 983.69 L1872.14 983.15 L1872.21 982.61 L1872.27 982.07 L1872.33 981.53 L1872.4 980.99 L1872.46 980.44 L1872.52 979.9 L1872.59 979.36 L1872.65 978.82 L1872.72 978.28 L1872.78 977.74 L1872.84 977.2 L1872.91 976.66 L1872.97 976.12 L1873.03 975.58 L1873.1 975.04 L1873.16 974.49 L1873.23 973.95 L1873.29 973.41 L1873.35 972.87 L1873.42 972.33 L1873.48 971.79 L1873.54 971.25 L1873.61 970.71 L1873.67 970.17 L1873.74 969.63 L1873.8 969.09 L1873.86 968.55 L1873.93 968 L1873.99 967.46 L1874.05 966.92 L1874.12 966.38 L1874.18 965.84 L1874.24 965.3 L1874.31 964.76 L1874.37 964.22 L1874.44 963.68 L1874.5 963.14 L1874.56 962.6 L1874.63 962.06 L1874.69 961.51 L1874.75 960.97 L1874.82 960.43 L1874.88 959.89 L1874.94 959.35 L1875.01 958.81 L1875.07 958.27 L1875.13 957.73 L1875.2 957.19 L1875.26 956.65 L1875.33 956.11 L1875.39 955.57 L1875.45 955.02 L1875.52 954.48 L1875.58 953.94 L1875.64 953.4 L1875.71 952.86 L1875.77 952.32 L1875.83 951.78 L1875.9 951.24 L1875.96 950.7 L1876.03 950.16 L1876.09 949.62 L1876.15 949.07 L1876.22 948.53 L1876.28 947.99 L1876.34 947.45 L1876.41 946.91 L1876.47 946.37 L1876.54 945.83 L1876.6 945.29 L1876.66 944.75 L1876.73 944.21 L1876.79 943.67 L1876.85 943.13 L1876.92 942.58 L1876.98 942.04 L1877.05 941.5 L1877.11 940.96 L1877.17 940.42 L1877.24 939.88 L1877.3 939.34 L1877.37 938.8 L1877.43 938.26 L1877.49 937.72 L1877.56 937.18 L1877.62 936.64 L1877.69 936.09 L1877.75 935.55 L1877.82 935.01 L1877.88 934.47 L1877.94 933.93 L1878.01 933.39 L1878.07 932.85 L1878.14 932.31 L1878.2 931.77 L1878.27 931.23 L1878.33 930.69 L1878.4 930.15 L1878.46 929.6 L1878.52 929.06 L1878.59 928.52 L1878.65 927.98 L1878.72 927.44 L1878.78 926.9 L1878.85 926.36 L1878.91 925.82 L1878.98 925.28 L1879.04 924.74 L1879.11 924.2 L1879.17 923.65 L1879.24 923.11 L1879.3 922.57 L1879.37 922.03 L1879.43 921.49 L1879.5 920.95 L1879.56 920.41 L1879.63 919.87 L1879.69 919.33 L1879.76 918.79 L1879.82 918.25 L1879.89 917.71 L1879.96 917.16 L1880.02 916.62 L1880.09 916.08 L1880.15 915.54 L1880.22 915 L1880.28 914.46 L1880.35 913.92 L1880.42 913.38 L1880.48 912.84 L1880.55 912.3 L1880.61 911.76 L1880.68 911.22 L1880.75 910.67 L1880.81 910.13 L1880.88 909.59 L1880.94 909.05 L1881.01 908.51 L1881.08 907.97 L1881.14 907.43 L1881.21 906.89 L1881.28 906.35 L1881.34 905.81 L1881.41 905.27 L1881.48 904.73 L1881.54 904.18 L1881.61 903.64 L1881.68 903.1 L1881.75 902.56 L1881.81 902.02 L1881.88 901.48 L1881.95 900.94 L1882.02 900.4 L1882.08 899.86 L1882.15 899.32 L1882.22 898.78 L1882.29 898.24 L1882.35 897.69 L1882.42 897.15 L1882.49 896.61 L1882.56 896.07 L1882.63 895.53 L1882.69 894.99 L1882.76 894.45 L1882.83 893.91 L1882.9 893.37 L1882.97 892.83 L1883.04 892.29 L1883.11 891.74 L1883.17 891.2 L1883.24 890.66 L1883.31 890.12 L1883.38 889.58 L1883.45 889.04 L1883.52 888.5 L1883.6 887.96 L1883.67 887.42 L1883.74 886.88 L1883.81 886.34 L1883.89 885.8 L1883.96 885.25 L1884.03 884.71 L1884.11 884.17 L1884.18 883.63 L1884.26 883.09 L1884.33 882.55 L1884.41 882.01 L1884.49 881.47 L1884.57 880.93 L1884.65 880.39 L1884.72 879.85 L1884.8 879.31 L1884.88 878.76 L1884.97 878.22 L1885.05 877.68 L1885.13 877.14 L1885.21 876.6 L1885.3 876.06 L1885.38 875.52 L1885.47 874.98 L1885.55 874.44 L1885.64 873.9 L1885.73 873.36 L1885.82 872.82 L1885.91 872.27 L1886 871.73 L1886.09 871.19 L1886.19 870.65 L1886.28 870.11 L1886.38 869.57 L1886.47 869.03 L1886.57 868.49 L1886.67 867.95 L1886.77 867.41 L1886.87 866.87 L1886.98 866.32 L1887.08 865.78 L1887.19 865.24 L1887.3 864.7 L1887.41 864.16 L1887.52 863.62 L1887.64 863.08 L1887.76 862.54 L1887.87 862 L1888 861.46 L1888.12 860.92 L1888.25 860.38 L1888.38 859.83 L1888.51 859.29 L1888.65 858.75 L1888.79 858.21 L1888.94 857.67 L1889.09 857.13 L1889.24 856.59 L1889.4 856.05 L1889.57 855.51 L1889.74 854.97 L1889.92 854.43 L1890.11 853.89 L1890.31 853.34 L1890.52 852.8 L1890.74 852.26 L1890.98 851.72 L1891.24 851.18 L1891.52 850.64 L1891.83 850.1 L1892.17 849.56 L1892.58 849.02 L1893.06 848.48 L1893.67 847.94 L1894.53 847.4" fill="none" stroke="#0000ff" stroke-width="2.1" stroke-linejoin="round"/>
<path d="M1617.01 1385 L1643.24 1384.46 L1658.59 1383.92 L1669.48 1383.38 L1677.93 1382.84 L1684.83 1382.3 L1690.67 1381.75 L1695.73 1381.21 L1700.19 1380.67 L1704.18 1380.13 L1707.8 1379.59 L1711.09 1379.05 L1714.13 1378.51 L1716.94 1377.97 L1719.55 1377.43 L1722 1376.89 L1724.3 1376.35 L1726.47 1375.81 L1728.52 1375.26 L1730.47 1374.72 L1732.32 1374.18 L1734.08 1373.64 L1735.77 1373.1 L1737.39 1372.56 L1738.94 1372.02 L1740.43 1371.48 L1741.86 1370.94 L1743.24 1370.4 L1744.58 1369.86 L1745.86 1369.32 L1747.11 1368.77 L1748.32 1368.23 L1749.49 1367.69 L1750.62 1367.15 L1751.72 1366.61 L1752.8 1366.07 L1753.84 1365.53 L1754.85 1364.99 L1755.84 1364.45 L1756.81 1363.91 L1757.75 1363.37 L1758.66 1362.83 L1759.56 1362.28 L1760.43 1361.74 L1761.29 1361.2 L1762.13 1360.66 L1762.95 1360.12 L1763.75 1359.58 L1764.54 1359.04 L1765.31 1358.5 L1766.06 1357.96 L1766.8 1357.42 L1767.53 1356.88 L1768.24 1356.33 L1768.94 1355.79 L1769.63 1355.25 L1770.3 1354.71 L1770.97 1354.17 L1771.62 1353.63 L1772.26 1353.09 L1772.89 1352.55 L1773.52 1352.01 L1774.13 1351.47 L1774.73 1350.93 L1775.32 1350.39 L1775.9 1349.84 L1776.48 1349.3 L1777.05 1348.76 L1777.6 1348.22 L1778.15 1347.68 L1778.7 1347.14 L1779.23 1346.6 L1779.76 1346.06 L1780.28 1345.52 L1780.79 1344.98 L1781.3 1344.44 L1781.8 1343.9 L1782.3 1343.35 L1782.78 1342.81 L1783.27 1342.27 L1783.74 1341.73 L1784.21 1341.19 L1784.68 1340.65 L1785.13 1340.11 L1785.59 1339.57 L1786.04 1339.03 L1786.48 1338.49 L1786.92 1337.95 L1787.35 1337.41 L1787.78 1336.86 L1788.21 1336.32 L1788.62 1335.78 L1789.04 1335.24 L1789.45 1334.7 L1789.86 1334.16 L1790.26 1333.62 L1790.66 1333.08 L1791.05 1332.54 L1791.44 1332 L1791.83 1331.46 L1792.21 1330.91 L1792.59 1330.37 L1792.96 1329.83 L1793.34 1329.29 L1793.7 1328.75 L1794.07 1328.21 L1794.43 1327.67 L1794.79 1327.13 L1795.14 1326.59 L1795.49 1326.05 L1795.84 1325.51 L1796.19 1324.97 L1796.53 1324.42 L1796.87 1323.88 L1797.21 1323.34 L1797.54 1322.8 L1797.87 1322.26 L1798.2 1321.72 L1798.52 1321.18 L1798.85 1320.64 L1799.17 1320.1 L1799.48 1319.56 L1799.8 1319.02 L1800.11 1318.48 L1800.42 1317.93 L1800.73 1317.39 L1801.04 1316.85 L1801.34 1316.31 L1801.64 1315.77 L1801.94 1315.23 L1802.23 1314.69 L1802.53 1314.15 L1802.82 1313.61 L1803.11 1313.07 L1803.4 1312.53 L1803.68 1311.99 L1803.96 1311.44 L1804.25 1310.9 L1804.53 1310.36 L1804.8 1309.82 L1805.08 1309.28 L1805.35 1308.74 L1805.62 1308.2 L1805.89 1307.66 L1806.16 1307.12 L1806.43 1306.58 L1806.69 1306.04 L1806.96 1305.5 L1807.22 1304.95 L1807.48 1304.41 L1807.73 1303.87 L1807.99 1303.33 L1808.24 1302.79 L1808.5 1302.25 L1808.75 1301.71 L1809 1301.17 L1809.24 1300.63 L1809.49 1300.09 L1809.74 1299.55 L1809.98 1299 L1810.22 1298.46 L1810.46 1297.92 L1810.7 1297.38 L1810.94 1296.84 L1811.18 1296.3 L1811.41 1295.76 L1811.64 1295.22 L1811.88 1294.68 L1812.11 1294.14 L1812.34 1293.6 L1812.57 1293.06 L1812.79 1292.51 L1813.02 1291.97 L1813.24 1291.43 L1813.47 1290.89 L1813.69 1290.35 L1813.91 1289.81 L1814.13 1289.27 L1814.35 1288.73 L1814.56 1288.19 L1814.78 1287.65 L1814.99 1287.11 L1815.21 1286.57 L1815.42 1286.02 L1815.63 1285.48 L1815.84 1284.94 L1816.05 1284.4 L1816.26 1283.86 L1816.47 1283.32 L1816.67 1282.78 L1816.88 1282.24 L1817.08 1281.7 L1817.28 1281.16 L1817.49 1280.62 L1817.69 1280.08 L1817.89 1279.53 L1818.09 1278.99 L1818.28 1278.45 L1818.48 1277.91 L1818.68 1277.37 L1818.87 1276.83 L1819.07 1276.29 L1819.26 1275.75 L1819.45 1275.21 L1819.64 1274.67 L1819.84 1274.13 L1820.03 1273.58 L1820.21 1273.04 L1820.4 1272.5 L1820.59 1271.96 L1820.78 1271.42 L1820.96 1270.88 L1821.15 1270.34 L1821.33 1269.8 L1821.51 1269.26 L1821.69 1268.72 L1821.88 1268.18 L1822.06 1267.64 L1822.24 1267.09 L1822.41 1266.55 L1822.59 1266.01 L1822.77 1265.47 L1822.95 1264.93 L1823.12 1264.39 L1823.3 1263.85 L1823.47 1263.31 L1823.65 1262.77 L1823.82 1262.23 L1823.99 1261.69 L1824.16 1261.15 L1824.33 1260.6 L1824.5 1260.06 L1824.67 1259.52 L1824.84 1258.98 L1825.01 1258.44 L1825.18 1257.9 L1825.34 1257.36 L1825.51 1256.82 L1825.67 1256.28 L1825.84 1255.74 L1826 1255.2 L1826.17 1254.66 L1826.33 1254.11 L1826.49 1253.57 L1826.65 1253.03 L1826.81 1252.49 L1826.97 1251.95 L1827.13 1251.41 L1827.29 1250.87 L1827.45 1250.33 L1827.61 1249.79 L1827.77 1249.25 L1827.92 1248.71 L1828.08 1248.16 L1828.23 1247.62 L1828.39 1247.08 L1828.54 1246.54 L1828.7 1246 L1828.85 1245.46 L1829 1244.92 L1829.15 1244.38 L1829.3 1243.84 L1829.46 1243.3 L1829.61 1242.76 L1829.76 1242.22 L1829.91 1241.67 L1830.05 1241.13 L1830.2 1240.59 L1830.35 1240.05 L1830.5 1239.51 L1830.64 1238.97 L1830.79 1238.43 L1830.94 1237.89 L1831.08 1237.35 L1831.23 1236.81 L1831.37 1236.27 L1831.51 1235.73 L1831.66 1235.18 L1831.8 1234.64 L1831.94 1234.1 L1832.08 1233.56 L1832.22 1233.02 L1832.36 1232.48 L1832.51 1231.94 L1832.65 1231.4 L1832.78 1230.86 L1832.92 1230.32 L1833.06 1229.78 L1833.2 1229.24 L1833.34 1228.69 L1833.47 1228.15 L1833.61 1227.61 L1833.75 1227.07 L1833.88 1226.53 L1834.02 1225.99 L1834.15 1225.45 L1834.29 1224.91 L1834.42 1224.37 L1834.56 1223.83 L1834.69 1223.29 L1834.82 1222.74 L1834.95 1222.2 L1835.09 1221.66 L1835.22 1221.12 L1835.35 1220.58 L1835.48 1220.04 L1835.61 1219.5 L1835.74 1218.96 L1835.87 1218.42 L1836 1217.88 L1836.13 1217.34 L1836.26 1216.8 L1836.38 1216.25 L1836.51 1215.71 L1836.64 1215.17 L1836.77 1214.63 L1836.89 1214.09 L1837.02 1213.55 L1837.15 1213.01 L1837.27 1212.47 L1837.4 1211.93 L1837.52 1211.39 L1837.64 1210.85 L1837.77 1210.31 L1837.89 1209.76 L1838.02 1209.22 L1838.14 1208.68 L1838.26 1208.14 L1838.38 1207.6 L1838.51 1207.06 L1838.63 1206.52 L1838.75 1205.98 L1838.87 1205.44 L1838.99 1204.9 L1839.11 1204.36 L1839.23 1203.82 L1839.35 1203.27 L1839.47 1202.73 L1839.59 1202.19 L1839.71 1201.65 L1839.82 1201.11 L1839.94 1200.57 L1840.06 1200.03 L1840.18 1199.49 L1840.29 1198.95 L1840.41 1198.41 L1840.53 1197.87 L1840.64 1197.33 L1840.76 1196.78 L1840.87 1196.24 L1840.99 1195.7 L1841.1 1195.16 L1841.22 1194.62 L1841.33 1194.08 L1841.45 1193.54 L1841.56 1193 L1841.67 1192.46 L1841.79 1191.92 L1841.9 1191.38 L1842.01 1190.83 L1842.12 1190.29 L1842.24 1189.75 L1842.35 1189.21 L1842.46 1188.67 L1842.57 1188.13 L1842.68 1187.59 L1842.79 1187.05 L1842.9 1186.51 L1843.01 1185.97 L1843.12 1185.43 L1843.23 1184.89 L1843.34 1184.34 L1843.45 1183.8 L1843.56 1183.26 L1843.66 1182.72 L1843.77 1182.18 L1843.88 1181.64 L1843.99 1181.1 L1844.09 1180.56 L1844.2 1180.02 L1844.31 1179.48 L1844.41 1178.94 L1844.52 1178.4 L1844.63 1177.85 L1844.73 1177.31 L1844.84 1176.77 L1844.94 1176.23 L1845.05 1175.69 L1845.15 1175.15 L1845.26 1174.61 L1845.36 1174.07 L1845.47 1173.53 L1845.57 1172.99 L1845.67 1172.45 L1845.78 1171.91 L1845.88 1171.36 L1845.98 1170.82 L1846.08 1170.28 L1846.19 1169.74 L1846.29 1169.2 L1846.39 1168.66 L1846.49 1168.12 L1846.59 1167.58 L1846.7 1167.04 L1846.8 1166.5 L1846.9 1165.96 L1847 1165.41 L1847.1 1164.87 L1847.2 1164.33 L1847.3 1163.79 L1847.4 1163.25 L1847.5 1162.71 L1847.6 1162.17 L1847.69 1161.63 L1847.79 1161.09 L1847.89 1160.55 L1847.99 1160.01 L1848.09 1159.47 L1848.19 1158.92 L1848.28 1158.38 L1848.38 1157.84 L1848.48 1157.3 L1848.58 1156.76 L1848.67 1156.22 L1848.77 1155.68 L1848.87 1155.14 L1848.96 1154.6 L1849.06 1154.06 L1849.15 1153.52 L1849.25 1152.98 L1849.34 1152.43 L1849.44 1151.89 L1849.53 1151.35 L1849.63 1150.81 L1849.72 1150.27 L1849.82 1149.73 L1849.91 1149.19 L1850.01 1148.65 L1850.1 1148.11 L1850.19 1147.57 L1850.29 1147.03 L1850.38 1146.49 L1850.47 1145.94 L1850.57 1145.4 L1850.66 1144.86 L1850.75 1144.32 L1850.84 1143.78 L1850.94 1143.24 L1851.03 1142.7 L1851.12 1142.16 L1851.21 1141.62 L1851.3 1141.08 L1851.39 1140.54 L1851.49 1139.99 L1851.58 1139.45 L1851.67 1138.91 L1851.76 1138.37 L1851.85 1137.83 L1851.94 1137.29 L1852.03 1136.75 L1852.12 1136.21 L1852.21 1135.67 L1852.3 1135.13 L1852.39 1134.59 L1852.48 1134.05 L1852.57 1133.5 L1852.65 1132.96 L1852.74 1132.42 L1852.83 1131.88 L1852.92 1131.34 L1853.01 1130.8 L1853.1 1130.26 L1853.18 1129.72 L1853.27 1129.18 L1853.36 1128.64 L1853.45 1128.1 L1853.53 1127.56 L1853.62 1127.01 L1853.71 1126.47 L1853.79 1125.93 L1853.88 1125.39 L1853.97 1124.85 L1854.05 1124.31 L1854.14 1123.77 L1854.23 1123.23 L1854.31 1122.69 L1854.4 1122.15 L1854.48 1121.61 L1854.57 1121.07 L1854.65 1120.52 L1854.74 1119.98 L1854.82 1119.44 L1854.91 1118.9 L1854.99 1118.36 L1855.08 1117.82 L1855.16 1117.28 L1855.24 1116.74 L1855.33 1116.2 L1855.41 1115.66 L1855.5 1115.12 L1855.58 1114.58 L1855.66 1114.03 L1855.75 1113.49 L1855.83 1112.95 L1855.91 1112.41 L1856 1111.87 L1856.08 1111.33 L1856.16 1110.79 L1856.24 1110.25 L1856.33 1109.71 L1856.41 1109.17 L1856.49 1108.63 L1856.57 1108.08 L1856.65 1107.54 L1856.73 1107 L1856.82 1106.46 L1856.9 1105.92 L1856.98 1105.38 L1857.06 1104.84 L1857.14 1104.3 L1857.22 1103.76 L1857.3 1103.22 L1857.38 1102.68 L1857.46 1102.14 L1857.54 1101.59 L1857.62 1101.05 L1857.7 1100.51 L1857.78 1099.97 L1857.86 1099.43 L1857.94 1098.89 L1858.02 1098.35 L1858.1 1097.81 L1858.18 1097.27 L1858.26 1096.73 L1858.34 1096.19 L1858.42 1095.65 L1858.5 1095.1 L1858.58 1094.56 L1858.65 1094.02 L1858.73 1093.48 L1858.81 1092.94 L1858.89 1092.4 L1858.97 1091.86 L1859.04 1091.32 L1859.12 1090.78 L1859.2 1090.24 L1859.28 1089.7 L1859.36 1089.16 L1859.43 1088.61 L1859.51 1088.07 L1859.59 1087.53 L1859.66 1086.99 L1859.74 1086.45 L1859.82 1085.91 L1859.89 1085.37 L1859.97 1084.83 L1860.05 1084.29 L1860.12 1083.75 L1860.2 1083.21 L1860.28 1082.66 L1860.35 1082.12 L1860.43 1081.58 L1860.5 1081.04 L1860.58 1080.5 L1860.65 1079.96 L1860.73 1079.42 L1860.81 1078.88 L1860.88 1078.34 L1860.96 1077.8 L1861.03 1077.26 L1861.11 1076.72 L1861.18 1076.17 L1861.26 1075.63 L1861.33 1075.09 L1861.4 1074.55 L1861.48 1074.01 L1861.55 1073.47 L1861.63 1072.93 L1861.7 1072.39 L1861.78 1071.85 L1861.85 1071.31 L1861.92 1070.77 L1862 1070.23 L1862.07 1069.68 L1862.14 1069.14 L1862.22 1068.6 L1862.29 1068.06 L1862.36 1067.52 L1862.44 1066.98 L1862.51 1066.44 L1862.58 1065.9 L1862.66 1065.36 L1862.73 1064.82 L1862.8 1064.28 L1862.87 1063.74 L1862.95 1063.19 L1863.02 1062.65 L1863.09 1062.11 L1863.16 1061.57 L1863.23 1061.03 L1863.31 1060.49 L1863.38 1059.95 L1863.45 1059.41 L1863.52 1058.87 L1863.59 1058.33 L1863.66 1057.79 L1863.74 1057.24 L1863.81 1056.7 L1863.88 1056.16 L1863.95 1055.62 L1864.02 1055.08 L1864.09 1054.54 L1864.16 1054 L1864.23 1053.46 L1864.3 1052.92 L1864.37 1052.38 L1864.45 1051.84 L1864.52 1051.3 L1864.59 1050.75 L1864.66 1050.21 L1864.73 1049.67 L1864.8 1049.13 L1864.87 1048.59 L1864.94 1048.05 L1865.01 1047.51 L1865.08 1046.97 L1865.15 1046.43 L1865.21 1045.89 L1865.28 1045.35 L1865.35 1044.81 L1865.42 1044.26 L1865.49 1043.72 L1865.56 1043.18 L1865.63 1042.64 L1865.7 1042.1 L1865.77 1041.56 L1865.84 1041.02 L1865.91 1040.48 L1865.97 1039.94 L1866.04 1039.4 L1866.11 1038.86 L1866.18 1038.32 L1866.25 1037.77 L1866.32 1037.23 L1866.39 1036.69 L1866.45 1036.15 L1866.52 1035.61 L1866.59 1035.07 L1866.66 1034.53 L1866.72 1033.99 L1866.79 1033.45 L1866.86 1032.91 L1866.93 1032.37 L1867 1031.82 L1867.06 1031.28 L1867.13 1030.74 L1867.2 1030.2 L1867.26 1029.66 L1867.33 1029.12 L1867.4 1028.58 L1867.47 1028.04 L1867.53 1027.5 L1867.6 1026.96 L1867.67 1026.42 L1867.73 1025.88 L1867.8 1025.33 L1867.87 1024.79 L1867.93 1024.25 L1868 1023.71 L1868.07 1023.17 L1868.13 1022.63 L1868.2 1022.09 L1868.26 1021.55 L1868.33 1021.01 L1868.4 1020.47 L1868.46 1019.93 L1868.53 1019.39 L1868.6 1018.84 L1868.66 1018.3 L1868.73 1017.76 L1868.79 1017.22 L1868.86 1016.68 L1868.93 1016.14 L1868.99 1015.6 L1869.06 1015.06 L1869.12 1014.52 L1869.19 1013.98 L1869.26 1013.44 L1869.32 1012.9 L1869.39 1012.35 L1869.45 1011.81 L1869.52 1011.27 L1869.59 1010.73 L1869.65 1010.19 L1869.72 1009.65 L1869.78 1009.11 L1869.85 1008.57 L1869.91 1008.03 L1869.98 1007.49 L1870.04 1006.95 L1870.11 1006.4 L1870.18 1005.86 L1870.24 1005.32 L1870.31 1004.78 L1870.37 1004.24 L1870.44 1003.7 L1870.5 1003.16 L1870.57 1002.62 L1870.63 1002.08 L1870.7 1001.54 L1870.76 1001 L1870.83 1000.46 L1870.89 999.91 L1870.96 999.37 L1871.02 998.83 L1871.09 998.29 L1871.15 997.75 L1871.22 997.21 L1871.28 996.67 L1871.35 996.13 L1871.41 995.59 L1871.48 995.05 L1871.54 994.51 L1871.61 993.97 L1871.67 993.42 L1871.74 992.88 L1871.8 992.34 L1871.87 991.8 L1871.93 991.26 L1872 990.72 L1872.06 990.18 L1872.13 989.64 L1872.19 989.1 L1872.26 988.56 L1872.32 988.02 L1872.39 987.48 L1872.45 986.93 L1872.52 986.39 L1872.58 985.85 L1872.65 985.31 L1872.71 984.77 L1872.78 984.23 L1872.84 983.69 L1872.91 983.15 L1872.97 982.61 L1873.04 982.07 L1873.1 981.53 L1873.17 980.99 L1873.23 980.44 L1873.3 979.9 L1873.36 979.36 L1873.43 978.82 L1873.49 978.28 L1873.55 977.74 L1873.62 977.2 L1873.68 976.66 L1873.75 976.12 L1873.81 975.58 L1873.88 975.04 L1873.94 974.49 L1874.01 973.95 L1874.07 973.41 L1874.14 972.87 L1874.2 972.33 L1874.27 971.79 L1874.33 971.25 L1874.4 970.71 L1874.46 970.17 L1874.53 969.63 L1874.59 969.09 L1874.66 968.55 L1874.72 968 L1874.79 967.46 L1874.85 966.92 L1874.92 966.38 L1874.98 965.84 L1875.05 965.3 L1875.11 964.76 L1875.18 964.22 L1875.24 963.68 L1875.31 963.14 L1875.37 962.6 L1875.44 962.06 L1875.5 961.51 L1875.57 960.97 L1875.63 960.43 L1875.7 959.89 L1875.76 959.35 L1875.83 958.81 L1875.89 958.27 L1875.96 957.73 L1876.02 957.19 L1876.09 956.65 L1876.16 956.11 L1876.22 955.57 L1876.29 955.02 L1876.35 954.48 L1876.42 953.94 L1876.48 953.4 L1876.55 952.86 L1876.61 952.32 L1876.68 951.78 L1876.75 951.24 L1876.81 950.7 L1876.88 950.16 L1876.94 949.62 L1877.01 949.07 L1877.07 948.53 L1877.14 947.99 L1877.21 947.45 L1877.27 946.91 L1877.34 946.37 L1877.4 945.83 L1877.47 945.29 L1877.54 944.75 L1877.6 944.21 L1877.67 943.67 L1877.73 943.13 L1877.8 942.58 L1877.87 942.04 L1877.93 941.5 L1878 940.96 L1878.07 940.42 L1878.13 939.88 L1878.2 939.34 L1878.27 938.8 L1878.33 938.26 L1878.4 937.72 L1878.47 937.18 L1878.53 936.64 L1878.6 936.09 L1878.67 935.55 L1878.74 935.01 L1878.8 934.47 L1878.87 933.93 L1878.94 933.39 L1879.01 932.85 L1879.07 932.31 L1879.14 931.77 L1879.21 931.23 L1879.28 930.69 L1879.35 930.15 L1879.42 929.6 L1879.48 929.06 L1879.55 928.52 L1879.62 927.98 L1879.69 927.44 L1879.76 926.9 L1879.83 926.36 L1879.9 925.82 L1879.97 925.28 L1880.04 924.74 L1880.11 924.2 L1880.18 923.65 L1880.25 923.11 L1880.32 922.57 L1880.39 922.03 L1880.46 921.49 L1880.53 920.95 L1880.6 920.41 L1880.67 919.87 L1880.75 919.33 L1880.82 918.79 L1880.89 918.25 L1880.96 917.71 L1881.03 917.16 L1881.11 916.62 L1881.18 916.08 L1881.25 915.54 L1881.32 915 L1881.4 914.46 L1881.47 913.92 L1881.54 913.38 L1881.62 912.84 L1881.69 912.3 L1881.76 911.76 L1881.84 911.22 L1881.91 910.67 L1881.99 910.13 L1882.06 909.59 L1882.14 909.05 L1882.21 908.51 L1882.29 907.97 L1882.37 907.43 L1882.44 906.89 L1882.52 906.35 L1882.59 905.81 L1882.67 905.27 L1882.75 904.73 L1882.83 904.18 L1882.9 903.64 L1882.98 903.1 L1883.06 902.56 L1883.14 902.02 L1883.22 901.48 L1883.3 900.94 L1883.38 900.4 L1883.46 899.86 L1883.54 899.32 L1883.62 898.78 L1883.7 898.24 L1883.78 897.69 L1883.86 897.15 L1883.94 896.61 L1884.03 896.07 L1884.11 895.53 L1884.19 894.99 L1884.27 894.45 L1884.36 893.91 L1884.44 893.37 L1884.53 892.83 L1884.61 892.29 L1884.7 891.74 L1884.79 891.2 L1884.88 890.66 L1884.97 890.12 L1885.06 889.58 L1885.15 889.04 L1885.25 888.5 L1885.35 887.96 L1885.45 887.42 L1885.55 886.88 L1885.66 886.34 L1885.77 885.8 L1885.88 885.25 L1886 884.71 L1886.11 884.17 L1886.24 883.63 L1886.36 883.09 L1886.49 882.55 L1886.63 882.01 L1886.77 881.47 L1886.91 880.93 L1887.06 880.39 L1887.22 879.85 L1887.38 879.31 L1887.56 878.76 L1887.74 878.22 L1887.93 877.68 L1888.13 877.14 L1888.35 876.6 L1888.58 876.06 L1888.83 875.52 L1889.1 874.98 L1889.4 874.44 L1889.72 873.9 L1890.09 873.36 L1890.5 872.82 L1890.99 872.27 L1891.57 871.73 L1892.31 871.19 L1893.31 870.65" fill="none" stroke="#ff0000" stroke-width="2.1" stroke-linejoin="round"/>
<path d="M1617.33 1385 L1643.57 1384.46 L1658.91 1383.92 L1669.8 1383.38 L1678.25 1382.84 L1685.16 1382.3 L1690.99 1381.75 L1696.05 1381.21 L1700.51 1380.67 L1704.51 1380.13 L1708.12 1379.59 L1711.42 1379.05 L1714.45 1378.51 L1717.26 1377.97 L1719.88 1377.43 L1722.33 1376.89 L1724.63 1376.35 L1726.79 1375.81 L1728.85 1375.26 L1730.79 1374.72 L1732.64 1374.18 L1734.41 1373.64 L1736.1 1373.1 L1737.71 1372.56 L1739.26 1372.02 L1740.75 1371.48 L1742.19 1370.94 L1743.57 1370.4 L1744.9 1369.86 L1746.19 1369.32 L1747.44 1368.77 L1748.65 1368.23 L1749.82 1367.69 L1750.95 1367.15 L1752.06 1366.61 L1753.13 1366.07 L1754.17 1365.53 L1755.18 1364.99 L1756.17 1364.45 L1757.14 1363.91 L1758.08 1363.37 L1759 1362.83 L1759.89 1362.28 L1760.77 1361.74 L1761.62 1361.2 L1762.46 1360.66 L1763.28 1360.12 L1764.08 1359.58 L1764.87 1359.04 L1765.64 1358.5 L1766.4 1357.96 L1767.14 1357.42 L1767.86 1356.88 L1768.58 1356.33 L1769.28 1355.79 L1769.96 1355.25 L1770.64 1354.71 L1771.3 1354.17 L1771.96 1353.63 L1772.6 1353.09 L1773.23 1352.55 L1773.85 1352.01 L1774.46 1351.47 L1775.06 1350.93 L1775.66 1350.39 L1776.24 1349.84 L1776.82 1349.3 L1777.38 1348.76 L1777.94 1348.22 L1778.49 1347.68 L1779.03 1347.14 L1779.57 1346.6 L1780.1 1346.06 L1780.62 1345.52 L1781.13 1344.98 L1781.64 1344.44 L1782.14 1343.9 L1782.63 1343.35 L1783.12 1342.81 L1783.6 1342.27 L1784.08 1341.73 L1784.55 1341.19 L1785.02 1340.65 L1785.47 1340.11 L1785.93 1339.57 L1786.38 1339.03 L1786.82 1338.49 L1787.26 1337.95 L1787.69 1337.41 L1788.12 1336.86 L1788.55 1336.32 L1788.96 1335.78 L1789.38 1335.24 L1789.79 1334.7 L1790.2 1334.16 L1790.6 1333.62 L1791 1333.08 L1791.39 1332.54 L1791.78 1332 L1792.17 1331.46 L1792.55 1330.91 L1792.93 1330.37 L1793.3 1329.83 L1793.68 1329.29 L1794.04 1328.75 L1794.41 1328.21 L1794.77 1327.67 L1795.13 1327.13 L1795.48 1326.59 L1795.84 1326.05 L1796.18 1325.51 L1796.53 1324.97 L1796.87 1324.42 L1797.21 1323.88 L1797.55 1323.34 L1797.88 1322.8 L1798.21 1322.26 L1798.54 1321.72 L1798.87 1321.18 L1799.19 1320.64 L1799.51 1320.1 L1799.83 1319.56 L1800.14 1319.02 L1800.45 1318.48 L1800.76 1317.93 L1801.07 1317.39 L1801.38 1316.85 L1801.68 1316.31 L1801.98 1315.77 L1802.28 1315.23 L1802.58 1314.69 L1802.87 1314.15 L1803.16 1313.61 L1803.45 1313.07 L1803.74 1312.53 L1804.02 1311.99 L1804.31 1311.44 L1804.59 1310.9 L1804.87 1310.36 L1805.14 1309.82 L1805.42 1309.28 L1805.69 1308.74 L1805.97 1308.2 L1806.24 1307.66 L1806.5 1307.12 L1806.77 1306.58 L1807.03 1306.04 L1807.3 1305.5 L1807.56 1304.95 L1807.82 1304.41 L1808.07 1303.87 L1808.33 1303.33 L1808.58 1302.79 L1808.84 1302.25 L1809.09 1301.71 L1809.34 1301.17 L1809.59 1300.63 L1809.83 1300.09 L1810.08 1299.55 L1810.32 1299 L1810.56 1298.46 L1810.8 1297.92 L1811.04 1297.38 L1811.28 1296.84 L1811.52 1296.3 L1811.75 1295.76 L1811.99 1295.22 L1812.22 1294.68 L1812.45 1294.14 L1812.68 1293.6 L1812.91 1293.06 L1813.13 1292.51 L1813.36 1291.97 L1813.58 1291.43 L1813.81 1290.89 L1814.03 1290.35 L1814.25 1289.81 L1814.47 1289.27 L1814.69 1288.73 L1814.9 1288.19 L1815.12 1287.65 L1815.33 1287.11 L1815.55 1286.57 L1815.76 1286.02 L1815.97 1285.48 L1816.18 1284.94 L1816.39 1284.4 L1816.6 1283.86 L1816.81 1283.32 L1817.01 1282.78 L1817.22 1282.24 L1817.42 1281.7 L1817.62 1281.16 L1817.83 1280.62 L1818.03 1280.08 L1818.23 1279.53 L1818.43 1278.99 L1818.62 1278.45 L1818.82 1277.91 L1819.02 1277.37 L1819.21 1276.83 L1819.41 1276.29 L1819.6 1275.75 L1819.79 1275.21 L1819.98 1274.67 L1820.17 1274.13 L1820.36 1273.58 L1820.55 1273.04 L1820.74 1272.5 L1820.93 1271.96 L1821.11 1271.42 L1821.3 1270.88 L1821.48 1270.34 L1821.67 1269.8 L1821.85 1269.26 L1822.03 1268.72 L1822.21 1268.18 L1822.39 1267.64 L1822.57 1267.09 L1822.75 1266.55 L1822.93 1266.01 L1823.11 1265.47 L1823.28 1264.93 L1823.46 1264.39 L1823.63 1263.85 L1823.81 1263.31 L1823.98 1262.77 L1824.15 1262.23 L1824.33 1261.69 L1824.5 1261.15 L1824.67 1260.6 L1824.84 1260.06 L1825.01 1259.52 L1825.17 1258.98 L1825.34 1258.44 L1825.51 1257.9 L1825.68 1257.36 L1825.84 1256.82 L1826.01 1256.28 L1826.17 1255.74 L1826.34 1255.2 L1826.5 1254.66 L1826.66 1254.11 L1826.82 1253.57 L1826.98 1253.03 L1827.15 1252.49 L1827.31 1251.95 L1827.46 1251.41 L1827.62 1250.87 L1827.78 1250.33 L1827.94 1249.79 L1828.1 1249.25 L1828.25 1248.71 L1828.41 1248.16 L1828.56 1247.62 L1828.72 1247.08 L1828.87 1246.54 L1829.03 1246 L1829.18 1245.46 L1829.33 1244.92 L1829.48 1244.38 L1829.63 1243.84 L1829.78 1243.3 L1829.94 1242.76 L1830.08 1242.22 L1830.23 1241.67 L1830.38 1241.13 L1830.53 1240.59 L1830.68 1240.05 L1830.83 1239.51 L1830.97 1238.97 L1831.12 1238.43 L1831.26 1237.89 L1831.41 1237.35 L1831.55 1236.81 L1831.7 1236.27 L1831.84 1235.73 L1831.98 1235.18 L1832.13 1234.64 L1832.27 1234.1 L1832.41 1233.56 L1832.55 1233.02 L1832.69 1232.48 L1832.83 1231.94 L1832.97 1231.4 L1833.11 1230.86 L1833.25 1230.32 L1833.39 1229.78 L1833.52 1229.24 L1833.66 1228.69 L1833.8 1228.15 L1833.94 1227.61 L1834.07 1227.07 L1834.21 1226.53 L1834.34 1225.99 L1834.48 1225.45 L1834.61 1224.91 L1834.75 1224.37 L1834.88 1223.83 L1835.01 1223.29 L1835.14 1222.74 L1835.28 1222.2 L1835.41 1221.66 L1835.54 1221.12 L1835.67 1220.58 L1835.8 1220.04 L1835.93 1219.5 L1836.06 1218.96 L1836.19 1218.42 L1836.32 1217.88 L1836.45 1217.34 L1836.58 1216.8 L1836.71 1216.25 L1836.83 1215.71 L1836.96 1215.17 L1837.09 1214.63 L1837.21 1214.09 L1837.34 1213.55 L1837.46 1213.01 L1837.59 1212.47 L1837.71 1211.93 L1837.84 1211.39 L1837.96 1210.85 L1838.09 1210.31 L1838.21 1209.76 L1838.33 1209.22 L1838.46 1208.68 L1838.58 1208.14 L1838.7 1207.6 L1838.82 1207.06 L1838.94 1206.52 L1839.07 1205.98 L1839.19 1205.44 L1839.31 1204.9 L1839.43 1204.36 L1839.55 1203.82 L1839.67 1203.27 L1839.78 1202.73 L1839.9 1202.19 L1840.02 1201.65 L1840.14 1201.11 L1840.26 1200.57 L1840.37 1200.03 L1840.49 1199.49 L1840.61 1198.95 L1840.73 1198.41 L1840.84 1197.87 L1840.96 1197.33 L1841.07 1196.78 L1841.19 1196.24 L1841.3 1195.7 L1841.42 1195.16 L1841.53 1194.62 L1841.65 1194.08 L1841.76 1193.54 L1841.87 1193 L1841.99 1192.46 L1842.1 1191.92 L1842.21 1191.38 L1842.32 1190.83 L1842.44 1190.29 L1842.55 1189.75 L1842.66 1189.21 L1842.77 1188.67 L1842.88 1188.13 L1842.99 1187.59 L1843.1 1187.05 L1843.21 1186.51 L1843.32 1185.97 L1843.43 1185.43 L1843.54 1184.89 L1843.65 1184.34 L1843.76 1183.8 L1843.87 1183.26 L1843.98 1182.72 L1844.08 1182.18 L1844.19 1181.64 L1844.3 1181.1 L1844.41 1180.56 L1844.51 1180.02 L1844.62 1179.48 L1844.73 1178.94 L1844.83 1178.4 L1844.94 1177.85 L1845.04 1177.31 L1845.15 1176.77 L1845.25 1176.23 L1845.36 1175.69 L1845.46 1175.15 L1845.57 1174.61 L1845.67 1174.07 L1845.77 1173.53 L1845.88 1172.99 L1845.98 1172.45 L1846.08 1171.91 L1846.19 1171.36 L1846.29 1170.82 L1846.39 1170.28 L1846.5 1169.74 L1846.6 1169.2 L1846.7 1168.66 L1846.8 1168.12 L1846.9 1167.58 L1847 1167.04 L1847.1 1166.5 L1847.2 1165.96 L1847.3 1165.41 L1847.4 1164.87 L1847.5 1164.33 L1847.6 1163.79 L1847.7 1163.25 L1847.8 1162.71 L1847.9 1162.17 L1848 1161.63 L1848.1 1161.09 L1848.2 1160.55 L1848.3 1160.01 L1848.39 1159.47 L1848.49 1158.92 L1848.59 1158.38 L1848.69 1157.84 L1848.78 1157.3 L1848.88 1156.76 L1848.98 1156.22 L1849.07 1155.68 L1849.17 1155.14 L1849.27 1154.6 L1849.36 1154.06 L1849.46 1153.52 L1849.55 1152.98 L1849.65 1152.43 L1849.75 1151.89 L1849.84 1151.35 L1849.93 1150.81 L1850.03 1150.27 L1850.12 1149.73 L1850.22 1149.19 L1850.31 1148.65 L1850.41 1148.11 L1850.5 1147.57 L1850.59 1147.03 L1850.69 1146.49 L1850.78 1145.94 L1850.87 1145.4 L1850.96 1144.86 L1851.06 1144.32 L1851.15 1143.78 L1851.24 1143.24 L1851.33 1142.7 L1851.43 1142.16 L1851.52 1141.62 L1851.61 1141.08 L1851.7 1140.54 L1851.79 1139.99 L1851.88 1139.45 L1851.97 1138.91 L1852.06 1138.37 L1852.15 1137.83 L1852.24 1137.29 L1852.33 1136.75 L1852.42 1136.21 L1852.51 1135.67 L1852.6 1135.13 L1852.69 1134.59 L1852.78 1134.05 L1852.87 1133.5 L1852.96 1132.96 L1853.05 1132.42 L1853.14 1131.88 L1853.22 1131.34 L1853.31 1130.8 L1853.4 1130.26 L1853.49 1129.72 L1853.58 1129.18 L1853.66 1128.64 L1853.75 1128.1 L1853.84 1127.56 L1853.92 1127.01 L1854.01 1126.47 L1854.1 1125.93 L1854.19 1125.39 L1854.27 1124.85 L1854.36 1124.31 L1854.44 1123.77 L1854.53 1123.23 L1854.62 1122.69 L1854.7 1122.15 L1854.79 1121.61 L1854.87 1121.07 L1854.96 1120.52 L1855.04 1119.98 L1855.13 1119.44 L1855.21 1118.9 L1855.3 1118.36 L1855.38 1117.82 L1855.47 1117.28 L1855.55 1116.74 L1855.63 1116.2 L1855.72 1115.66 L1855.8 1115.12 L1855.88 1114.58 L1855.97 1114.03 L1856.05 1113.49 L1856.13 1112.95 L1856.22 1112.41 L1856.3 1111.87 L1856.38 1111.33 L1856.47 1110.79 L1856.55 1110.25 L1856.63 1109.71 L1856.71 1109.17 L1856.79 1108.63 L1856.88 1108.08 L1856.96 1107.54 L1857.04 1107 L1857.12 1106.46 L1857.2 1105.92 L1857.28 1105.38 L1857.36 1104.84 L1857.45 1104.3 L1857.53 1103.76 L1857.61 1103.22 L1857.69 1102.68 L1857.77 1102.14 L1857.85 1101.59 L1857.93 1101.05 L1858.01 1100.51 L1858.09 1099.97 L1858.17 1099.43 L1858.25 1098.89 L1858.33 1098.35 L1858.41 1097.81 L1858.49 1097.27 L1858.57 1096.73 L1858.64 1096.19 L1858.72 1095.65 L1858.8 1095.1 L1858.88 1094.56 L1858.96 1094.02 L1859.04 1093.48 L1859.12 1092.94 L1859.19 1092.4 L1859.27 1091.86 L1859.35 1091.32 L1859.43 1090.78 L1859.51 1090.24 L1859.58 1089.7 L1859.66 1089.16 L1859.74 1088.61 L1859.82 1088.07 L1859.89 1087.53 L1859.97 1086.99 L1860.05 1086.45 L1860.12 1085.91 L1860.2 1085.37 L1860.28 1084.83 L1860.35 1084.29 L1860.43 1083.75 L1860.51 1083.21 L1860.58 1082.66 L1860.66 1082.12 L1860.73 1081.58 L1860.81 1081.04 L1860.89 1080.5 L1860.96 1079.96 L1861.04 1079.42 L1861.11 1078.88 L1861.19 1078.34 L1861.26 1077.8 L1861.34 1077.26 L1861.41 1076.72 L1861.49 1076.17 L1861.56 1075.63 L1861.64 1075.09 L1861.71 1074.55 L1861.78 1074.01 L1861.86 1073.47 L1861.93 1072.93 L1862.01 1072.39 L1862.08 1071.85 L1862.15 1071.31 L1862.23 1070.77 L1862.3 1070.23 L1862.38 1069.68 L1862.45 1069.14 L1862.52 1068.6 L1862.6 1068.06 L1862.67 1067.52 L1862.74 1066.98 L1862.82 1066.44 L1862.89 1065.9 L1862.96 1065.36 L1863.03 1064.82 L1863.11 1064.28 L1863.18 1063.74 L1863.25 1063.19 L1863.32 1062.65 L1863.4 1062.11 L1863.47 1061.57 L1863.54 1061.03 L1863.61 1060.49 L1863.68 1059.95 L1863.75 1059.41 L1863.83 1058.87 L1863.9 1058.33 L1863.97 1057.79 L1864.04 1057.24 L1864.11 1056.7 L1864.18 1056.16 L1864.25 1055.62 L1864.32 1055.08 L1864.4 1054.54 L1864.47 1054 L1864.54 1053.46 L1864.61 1052.92 L1864.68 1052.38 L1864.75 1051.84 L1864.82 1051.3 L1864.89 1050.75 L1864.96 1050.21 L1865.03 1049.67 L1865.1 1049.13 L1865.17 1048.59 L1865.24 1048.05 L1865.31 1047.51 L1865.38 1046.97 L1865.45 1046.43 L1865.52 1045.89 L1865.59 1045.35 L1865.66 1044.81 L1865.73 1044.26 L1865.79 1043.72 L1865.86 1043.18 L1865.93 1042.64 L1866 1042.1 L1866.07 1041.56 L1866.14 1041.02 L1866.21 1040.48 L1866.28 1039.94 L1866.34 1039.4 L1866.41 1038.86 L1866.48 1038.32 L1866.55 1037.77 L1866.62 1037.23 L1866.69 1036.69 L1866.75 1036.15 L1866.82 1035.61 L1866.89 1035.07 L1866.96 1034.53 L1867.02 1033.99 L1867.09 1033.45 L1867.16 1032.91 L1867.23 1032.37 L1867.29 1031.82 L1867.36 1031.28 L1867.43 1030.74 L1867.5 1030.2 L1867.56 1029.66 L1867.63 1029.12 L1867.7 1028.58 L1867.76 1028.04 L1867.83 1027.5 L1867.9 1026.96 L1867.96 1026.42 L1868.03 1025.88 L1868.1 1025.33 L1868.16 1024.79 L1868.23 1024.25 L1868.3 1023.71 L1868.36 1023.17 L1868.43 1022.63 L1868.5 1022.09 L1868.56 1021.55 L1868.63 1021.01 L1868.7 1020.47 L1868.76 1019.93 L1868.83 1019.39 L1868.9 1018.84 L1868.96 1018.3 L1869.03 1017.76 L1869.09 1017.22 L1869.16 1016.68 L1869.23 1016.14 L1869.29 1015.6 L1869.36 1015.06 L1869.43 1014.52 L1869.49 1013.98 L1869.56 1013.44 L1869.62 1012.9 L1869.69 1012.35 L1869.76 1011.81 L1869.82 1011.27 L1869.89 1010.73 L1869.95 1010.19 L1870.02 1009.65 L1870.09 1009.11 L1870.15 1008.57 L1870.22 1008.03 L1870.28 1007.49 L1870.35 1006.95 L1870.41 1006.4 L1870.48 1005.86 L1870.54 1005.32 L1870.61 1004.78 L1870.68 1004.24 L1870.74 1003.7 L1870.81 1003.16 L1870.87 1002.62 L1870.94 1002.08 L1871 1001.54 L1871.07 1001 L1871.13 1000.46 L1871.2 999.91 L1871.26 999.37 L1871.33 998.83 L1871.39 998.29 L1871.46 997.75 L1871.53 997.21 L1871.59 996.67 L1871.66 996.13 L1871.72 995.59 L1871.79 995.05 L1871.85 994.51 L1871.92 993.97 L1871.98 993.42 L1872.05 992.88 L1872.11 992.34 L1872.18 991.8 L1872.24 991.26 L1872.31 990.72 L1872.37 990.18 L1872.43 989.64 L1872.5 989.1 L1872.56 988.56 L1872.63 988.02 L1872.69 987.48 L1872.76 986.93 L1872.82 986.39 L1872.89 985.85 L1872.95 985.31 L1873.02 984.77 L1873.08 984.23 L1873.15 983.69 L1873.21 983.15 L1873.27 982.61 L1873.34 982.07 L1873.4 981.53 L1873.47 980.99 L1873.53 980.44 L1873.6 979.9 L1873.66 979.36 L1873.73 978.82 L1873.79 978.28 L1873.85 977.74 L1873.92 977.2 L1873.98 976.66 L1874.05 976.12 L1874.11 975.58 L1874.18 975.04 L1874.24 974.49 L1874.3 973.95 L1874.37 973.41 L1874.43 972.87 L1874.5 972.33 L1874.56 971.79 L1874.62 971.25 L1874.69 970.71 L1874.75 970.17 L1874.82 969.63 L1874.88 969.09 L1874.94 968.55 L1875.01 968 L1875.07 967.46 L1875.14 966.92 L1875.2 966.38 L1875.26 965.84 L1875.33 965.3 L1875.39 964.76 L1875.46 964.22 L1875.52 963.68 L1875.58 963.14 L1875.65 962.6 L1875.71 962.06 L1875.78 961.51 L1875.84 960.97 L1875.9 960.43 L1875.97 959.89 L1876.03 959.35 L1876.1 958.81 L1876.16 958.27 L1876.22 957.73 L1876.29 957.19 L1876.35 956.65 L1876.42 956.11 L1876.48 955.57 L1876.54 955.02 L1876.61 954.48 L1876.67 953.94 L1876.73 953.4 L1876.8 952.86 L1876.86 952.32 L1876.93 951.78 L1876.99 951.24 L1877.05 950.7 L1877.12 950.16 L1877.18 949.62 L1877.24 949.07 L1877.31 948.53 L1877.37 947.99 L1877.44 947.45 L1877.5 946.91 L1877.56 946.37 L1877.63 945.83 L1877.69 945.29 L1877.76 944.75 L1877.82 944.21 L1877.88 943.67 L1877.95 943.13 L1878.01 942.58 L1878.08 942.04 L1878.14 941.5 L1878.2 940.96 L1878.27 940.42 L1878.33 939.88 L1878.4 939.34 L1878.46 938.8 L1878.52 938.26 L1878.59 937.72 L1878.65 937.18 L1878.72 936.64 L1878.78 936.09 L1878.84 935.55 L1878.91 935.01 L1878.97 934.47 L1879.04 933.93 L1879.1 933.39 L1879.16 932.85 L1879.23 932.31 L1879.29 931.77 L1879.36 931.23 L1879.42 930.69 L1879.49 930.15 L1879.55 929.6 L1879.61 929.06 L1879.68 928.52 L1879.74 927.98 L1879.81 927.44 L1879.87 926.9 L1879.94 926.36 L1880 925.82 L1880.07 925.28 L1880.13 924.74 L1880.19 924.2 L1880.26 923.65 L1880.32 923.11 L1880.39 922.57 L1880.45 922.03 L1880.52 921.49 L1880.58 920.95 L1880.65 920.41 L1880.71 919.87 L1880.78 919.33 L1880.84 918.79 L1880.91 918.25 L1880.97 917.71 L1881.04 917.16 L1881.1 916.62 L1881.17 916.08 L1881.23 915.54 L1881.3 915 L1881.36 914.46 L1881.43 913.92 L1881.49 913.38 L1881.56 912.84 L1881.62 912.3 L1881.69 911.76 L1881.75 911.22 L1881.82 910.67 L1881.89 910.13 L1881.95 909.59 L1882.02 909.05 L1882.08 908.51 L1882.15 907.97 L1882.21 907.43 L1882.28 906.89 L1882.35 906.35 L1882.41 905.81 L1882.48 905.27 L1882.54 904.73 L1882.61 904.18 L1882.68 903.64 L1882.74 903.1 L1882.81 902.56 L1882.88 902.02 L1882.94 901.48 L1883.01 900.94 L1883.08 900.4 L1883.14 899.86 L1883.21 899.32 L1883.28 898.78 L1883.34 898.24 L1883.41 897.69 L1883.48 897.15 L1883.54 896.61 L1883.61 896.07 L1883.68 895.53 L1883.75 894.99 L1883.81 894.45 L1883.88 893.91 L1883.95 893.37 L1884.02 892.83 L1884.08 892.29 L1884.15 891.74 L1884.22 891.2 L1884.29 890.66 L1884.36 890.12 L1884.43 889.58 L1884.5 889.04 L1884.57 888.5 L1884.64 887.96 L1884.71 887.42 L1884.78 886.88 L1884.85 886.34 L1884.92 885.8 L1885 885.25 L1885.07 884.71 L1885.14 884.17 L1885.22 883.63 L1885.29 883.09 L1885.37 882.55 L1885.44 882.01 L1885.52 881.47 L1885.59 880.93 L1885.67 880.39 L1885.75 879.85 L1885.83 879.31 L1885.9 878.76 L1885.98 878.22 L1886.06 877.68 L1886.14 877.14 L1886.22 876.6 L1886.31 876.06 L1886.39 875.52 L1886.47 874.98 L1886.55 874.44 L1886.64 873.9 L1886.72 873.36 L1886.81 872.82 L1886.89 872.27 L1886.98 871.73 L1887.07 871.19 L1887.16 870.65 L1887.25 870.11 L1887.34 869.57 L1887.43 869.03 L1887.52 868.49 L1887.61 867.95 L1887.71 867.41 L1887.8 866.87 L1887.9 866.32 L1888 865.78 L1888.1 865.24 L1888.19 864.7 L1888.3 864.16 L1888.4 863.62 L1888.5 863.08 L1888.61 862.54 L1888.71 862 L1888.82 861.46 L1888.93 860.92 L1889.04 860.38 L1889.15 859.83 L1889.27 859.29 L1889.39 858.75 L1889.5 858.21 L1889.63 857.67 L1889.75 857.13 L1889.87 856.59 L1890 856.05 L1890.13 855.51 L1890.27 854.97 L1890.41 854.43 L1890.55 853.89 L1890.69 853.34 L1890.84 852.8 L1891 852.26 L1891.16 851.72 L1891.32 851.18 L1891.49 850.64 L1891.67 850.1 L1891.86 849.56 L1892.06 849.02 L1892.27 848.48 L1892.49 847.94 L1892.73 847.4 L1892.99 846.85 L1893.28 846.31 L1893.61 845.77 L1894.01 845.23 L1894.54 844.69" fill="none" stroke="#000000" stroke-width="2.1" stroke-linejoin="round"/>
<text x="1488.93" y="860.65" font-size="39.4" fill="#262626" font-family="'Liberation Sans', sans-serif" letter-spacing="1.14">0</text>
<text x="1419.76" y="968.82" font-size="39.4" fill="#262626" font-family="'Liberation Sans', sans-serif" letter-spacing="1.14">2000</text>
<text x="1419.76" y="1076.99" font-size="39.4" fill="#262626" font-family="'Liberation Sans', sans-serif" letter-spacing="1.14">4000</text>
<text x="1419.76" y="1185.16" font-size="39.4" fill="#262626" font-family="'Liberation Sans', sans-serif" letter-spacing="1.14">6000</text>
<text x="1419.76" y="1293.33" font-size="39.4" fill="#262626" font-family="'Liberation Sans', sans-serif" letter-spacing="1.14">8000</text>
<text x="1396.7" y="1401.5" font-size="39.4" fill="#262626" font-family="'Liberation Sans', sans-serif" letter-spacing="1.14">10000</text>
<text x="1496.31" y="1458.2" font-size="39.4" fill="#262626" font-family="'Liberation Sans', sans-serif" letter-spacing="1.14">10</text>
<text x="1543" y="1434.9" font-size="31.5" fill="#262626" font-family="'Liberation Sans', sans-serif" letter-spacing="1">0</text>
<text x="1931.97" y="1458.2" font-size="39.4" fill="#262626" font-family="'Liberation Sans', sans-serif" letter-spacing="1.14">10</text>
<text x="1978.64" y="1434.9" font-size="31.5" fill="#262626" font-family="'Liberation Sans', sans-serif" letter-spacing="1">5</text>
<text x="1562.04" y="1513.1" font-size="42.5" fill="#262626" font-family="'Liberation Sans', sans-serif" letter-spacing="0">Cumulative time (s)</text>
<text transform="translate(1376 1210.69) rotate(-90)" font-size="42.5" fill="#262626" font-family="'Liberation Sans', sans-serif" letter-spacing="-0.1">Depth (m)</text>
<text x="1531.83" y="823.6" font-size="68.5" fill="#000" font-family="'Liberation Sans', sans-serif">f</text>
</svg>
</body>
</html>
